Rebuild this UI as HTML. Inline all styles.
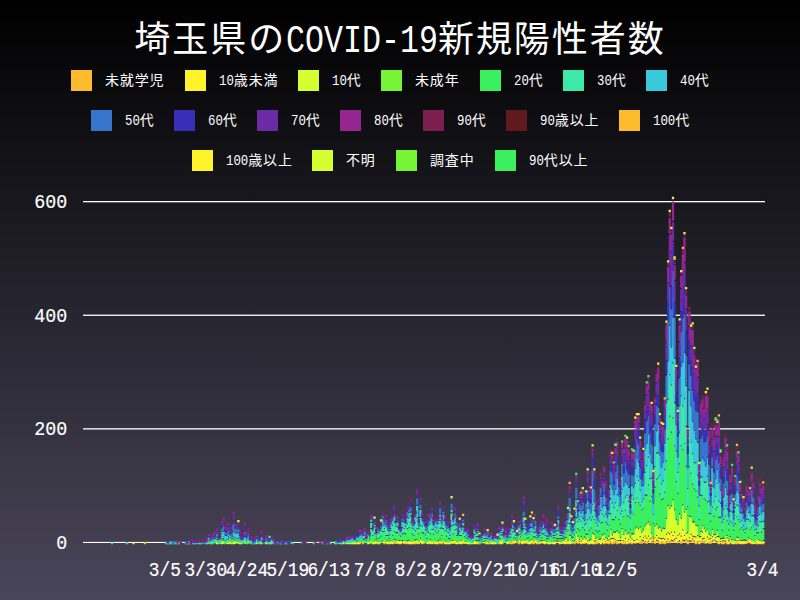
<!DOCTYPE html><html lang="ja"><head><meta charset="utf-8"><title>埼玉県のCOVID-19新規陽性者数</title><style>html,body{margin:0;padding:0;background:#4a465a;}body{width:800px;height:600px;overflow:hidden;font-family:"Liberation Mono",monospace;}#chart{width:800px;height:600px;background:linear-gradient(to bottom,#000000 0%,#4a465a 100%);}svg{display:block}</style></head><body><div id="chart"><svg width="800" height="600" viewBox="0 0 800 600" font-family="'Liberation Mono', monospace" fill="#fff"><style>.ax{stroke:#fff;stroke-width:0.18px}.cj{font-family:"Liberation Mono","Noto Sans CJK JP",monospace}</style><rect x="83" y="541.90" width="682" height="1.10" fill="#fff"/><rect x="83" y="428.20" width="682" height="1.30" fill="#fff"/><rect x="83" y="314.60" width="682" height="1.30" fill="#fff"/><rect x="83" y="201.00" width="682" height="1.30" fill="#fff"/><path fill="#FDBB2D" d="M143.78 542.05h2.28v2.23h-2.28zM191.34 542.05h2.28v2.23h-2.28zM207.74 542.05h2.28v1.66h-2.28zM227.42 542.05h2.28v2.23h-2.28zM240.54 542.05h2.28v2.23h-2.28zM247.10 542.05h2.28v1.66h-2.28zM255.30 542.05h2.28v2.23h-2.28zM258.58 542.05h2.28v2.23h-2.28zM260.22 542.05h2.28v2.23h-2.28zM265.14 542.05h2.28v2.23h-2.28zM342.22 542.05h2.28v2.23h-2.28zM355.34 542.05h2.28v2.23h-2.28zM358.62 542.05h2.28v2.23h-2.28zM361.90 542.05h2.28v2.23h-2.28zM370.10 542.05h2.28v1.10h-2.28zM373.38 542.05h2.28v2.23h-2.28zM376.66 542.05h2.28v2.23h-2.28zM383.22 542.05h2.28v2.23h-2.28zM386.50 542.05h2.28v2.23h-2.28zM393.06 542.05h2.28v1.66h-2.28zM394.70 542.05h2.28v1.66h-2.28zM397.98 542.05h2.28v2.23h-2.28zM399.62 542.05h2.28v2.23h-2.28zM404.54 542.05h2.28v2.23h-2.28zM406.18 542.05h2.28v2.23h-2.28zM407.82 542.05h2.28v2.23h-2.28zM411.10 542.05h2.28v2.23h-2.28zM412.74 542.05h2.28v2.23h-2.28zM414.38 542.05h2.28v2.23h-2.28zM416.02 542.05h2.28v1.66h-2.28zM417.66 542.05h2.28v2.23h-2.28zM419.30 541.78h2.28v1.07h-2.28zM420.94 542.05h2.28v2.23h-2.28zM422.58 542.05h2.28v1.66h-2.28zM427.50 542.05h2.28v2.23h-2.28zM430.78 542.05h2.28v2.23h-2.28zM432.42 542.05h2.28v1.66h-2.28zM434.06 542.05h2.28v2.23h-2.28zM437.34 542.05h2.28v2.23h-2.28zM438.98 542.05h2.28v1.66h-2.28zM440.62 542.05h2.28v2.23h-2.28zM442.26 541.78h2.28v1.07h-2.28zM445.54 542.05h2.28v2.23h-2.28zM450.46 542.05h2.28v1.66h-2.28zM453.74 542.05h2.28v1.66h-2.28zM457.02 542.05h2.28v2.23h-2.28zM461.94 542.05h2.28v1.66h-2.28zM471.78 542.05h2.28v2.23h-2.28zM473.42 542.05h2.28v2.23h-2.28zM475.06 542.05h2.28v2.23h-2.28zM476.70 542.05h2.28v2.23h-2.28zM484.90 542.05h2.28v2.23h-2.28zM488.18 542.05h2.28v2.23h-2.28zM489.82 542.05h2.28v2.23h-2.28zM493.10 542.05h2.28v2.23h-2.28zM498.02 542.05h2.28v2.23h-2.28zM499.66 542.05h2.28v2.23h-2.28zM501.30 542.05h2.28v2.23h-2.28zM506.22 542.05h2.28v2.23h-2.28zM507.86 542.05h2.28v1.66h-2.28zM509.50 542.05h2.28v2.23h-2.28zM511.14 542.05h2.28v2.23h-2.28zM512.78 542.05h2.28v1.66h-2.28zM517.70 542.05h2.28v2.23h-2.28zM519.34 542.05h2.28v1.10h-2.28zM520.98 542.05h2.28v2.23h-2.28zM522.62 542.05h2.28v1.66h-2.28zM524.26 542.05h2.28v1.66h-2.28zM525.90 542.05h2.28v1.66h-2.28zM529.18 542.05h2.28v2.23h-2.28zM530.82 542.05h2.28v1.10h-2.28zM532.46 542.05h2.28v2.23h-2.28zM534.10 542.05h2.28v1.10h-2.28zM535.74 542.05h2.28v2.23h-2.28zM537.38 542.05h2.28v2.23h-2.28zM543.94 542.05h2.28v2.23h-2.28zM563.62 542.05h2.28v2.23h-2.28zM565.26 542.05h2.28v2.23h-2.28zM573.46 542.05h2.28v2.23h-2.28zM575.10 541.78h2.28v1.07h-2.28zM576.74 542.05h2.28v1.66h-2.28zM580.02 542.05h2.28v2.23h-2.28zM581.66 542.05h2.28v1.66h-2.28zM583.30 542.05h2.28v1.66h-2.28zM586.58 542.05h2.28v2.23h-2.28zM589.86 542.05h2.28v1.66h-2.28zM593.14 542.05h2.28v2.23h-2.28zM594.78 542.05h2.28v2.23h-2.28zM596.42 542.05h2.28v1.66h-2.28zM601.34 542.05h2.28v1.10h-2.28zM602.98 542.05h2.28v2.23h-2.28zM606.26 542.05h2.28v1.66h-2.28zM607.90 542.05h2.28v2.23h-2.28zM609.54 542.05h2.28v1.10h-2.28zM611.18 542.05h2.28v2.23h-2.28zM612.82 542.05h2.28v1.66h-2.28zM614.46 542.05h2.28v1.10h-2.28zM616.10 542.05h2.28v2.23h-2.28zM617.74 542.05h2.28v1.66h-2.28zM621.02 542.05h2.28v1.66h-2.28zM622.66 542.05h2.28v2.23h-2.28zM624.30 542.05h2.28v1.66h-2.28zM625.94 542.05h2.28v2.23h-2.28zM627.58 542.05h2.28v1.66h-2.28zM629.22 542.05h2.28v1.10h-2.28zM630.86 542.05h2.28v2.23h-2.28zM634.14 542.05h2.28v1.66h-2.28zM637.42 542.05h2.28v1.10h-2.28zM639.06 542.05h2.28v1.66h-2.28zM640.70 542.05h2.28v1.66h-2.28zM642.34 541.21h2.28v1.64h-2.28zM643.98 542.05h2.28v1.10h-2.28zM645.62 542.05h2.28v1.66h-2.28zM647.26 541.78h2.28v1.07h-2.28zM650.54 542.05h2.28v1.10h-2.28zM652.18 541.78h2.28v1.07h-2.28zM653.82 542.05h2.28v1.66h-2.28zM655.46 540.64h2.28v2.21h-2.28zM657.10 541.78h2.28v1.07h-2.28zM658.74 542.05h2.28v2.23h-2.28zM660.38 542.05h2.28v1.66h-2.28zM662.02 542.05h2.28v1.66h-2.28zM663.66 542.05h2.28v2.23h-2.28zM665.30 542.05h2.28v1.10h-2.28zM666.94 539.51h2.28v3.34h-2.28zM668.58 542.05h2.28v1.10h-2.28zM670.22 540.64h2.28v2.21h-2.28zM671.86 541.21h2.28v1.64h-2.28zM673.50 540.07h2.28v2.78h-2.28zM676.78 542.05h2.28v1.10h-2.28zM678.42 541.21h2.28v1.64h-2.28zM680.06 542.05h2.28v1.66h-2.28zM681.70 540.64h2.28v2.21h-2.28zM683.34 541.21h2.28v1.64h-2.28zM684.98 540.07h2.28v2.78h-2.28zM686.62 542.05h2.28v2.23h-2.28zM688.26 541.78h2.28v1.07h-2.28zM689.90 541.78h2.28v1.07h-2.28zM691.54 539.51h2.28v3.34h-2.28zM693.18 541.78h2.28v1.07h-2.28zM694.82 542.05h2.28v2.23h-2.28zM696.46 542.05h2.28v1.10h-2.28zM698.10 542.05h2.28v2.23h-2.28zM699.74 542.05h2.28v1.10h-2.28zM701.38 539.51h2.28v3.34h-2.28zM703.02 542.05h2.28v1.10h-2.28zM704.66 542.05h2.28v1.66h-2.28zM707.94 542.05h2.28v1.66h-2.28zM709.58 542.05h2.28v1.66h-2.28zM711.22 541.78h2.28v1.07h-2.28zM714.50 541.78h2.28v1.07h-2.28zM716.14 542.05h2.28v1.10h-2.28zM717.78 542.05h2.28v2.23h-2.28zM721.06 542.05h2.28v2.23h-2.28zM722.70 542.05h2.28v2.23h-2.28zM724.34 541.78h2.28v1.07h-2.28zM725.98 542.05h2.28v2.23h-2.28zM729.26 541.78h2.28v1.07h-2.28zM730.90 542.05h2.28v2.23h-2.28zM732.54 542.05h2.28v2.23h-2.28zM734.18 542.05h2.28v2.23h-2.28zM735.82 542.05h2.28v2.23h-2.28zM737.46 542.05h2.28v1.66h-2.28zM739.10 542.05h2.28v2.23h-2.28zM740.74 542.05h2.28v2.23h-2.28zM742.38 542.05h2.28v2.23h-2.28zM745.66 542.05h2.28v1.66h-2.28zM747.30 541.78h2.28v1.07h-2.28zM748.94 542.05h2.28v1.10h-2.28zM750.58 542.05h2.28v2.23h-2.28zM752.22 542.05h2.28v2.23h-2.28zM755.50 542.05h2.28v2.23h-2.28zM757.14 542.05h2.28v2.23h-2.28zM758.78 542.05h2.28v2.23h-2.28zM760.42 542.05h2.28v2.23h-2.28zM762.06 542.05h2.28v2.23h-2.28z"/><path fill="#FFF42A" d="M166.74 542.05h2.28v2.23h-2.28zM188.06 542.05h2.28v2.23h-2.28zM215.94 542.05h2.28v2.23h-2.28zM219.22 542.05h2.28v1.66h-2.28zM220.86 542.05h2.28v2.23h-2.28zM222.50 542.05h2.28v1.66h-2.28zM225.78 542.05h2.28v1.66h-2.28zM227.42 541.48h2.28v2.23h-2.28zM229.06 542.05h2.28v1.66h-2.28zM230.70 542.05h2.28v2.23h-2.28zM232.34 542.05h2.28v2.23h-2.28zM233.98 542.05h2.28v1.66h-2.28zM235.62 542.05h2.28v1.10h-2.28zM238.90 542.05h2.28v2.23h-2.28zM247.10 540.91h2.28v2.23h-2.28zM255.30 541.48h2.28v2.23h-2.28zM260.22 541.48h2.28v2.23h-2.28zM265.14 541.48h2.28v2.23h-2.28zM270.06 542.05h2.28v2.23h-2.28zM334.02 542.05h2.28v2.23h-2.28zM352.06 542.05h2.28v2.23h-2.28zM356.98 542.05h2.28v2.23h-2.28zM373.38 541.48h2.28v2.23h-2.28zM376.66 541.21h2.28v1.07h-2.28zM383.22 541.48h2.28v1.10h-2.28zM386.50 541.48h2.28v2.23h-2.28zM388.14 542.05h2.28v2.23h-2.28zM389.78 542.05h2.28v1.66h-2.28zM391.42 542.05h2.28v2.23h-2.28zM396.34 542.05h2.28v1.66h-2.28zM397.98 541.48h2.28v2.23h-2.28zM399.62 541.48h2.28v2.23h-2.28zM402.90 542.05h2.28v1.66h-2.28zM407.82 541.48h2.28v2.23h-2.28zM409.46 542.05h2.28v2.23h-2.28zM411.10 541.48h2.28v2.23h-2.28zM412.74 541.48h2.28v1.66h-2.28zM416.02 540.91h2.28v2.23h-2.28zM419.30 539.78h2.28v2.23h-2.28zM420.94 541.48h2.28v1.66h-2.28zM425.86 542.05h2.28v1.66h-2.28zM427.50 541.48h2.28v2.23h-2.28zM429.14 542.05h2.28v1.66h-2.28zM434.06 541.48h2.28v1.66h-2.28zM438.98 540.91h2.28v1.66h-2.28zM443.90 542.05h2.28v2.23h-2.28zM447.18 542.05h2.28v2.23h-2.28zM448.82 542.05h2.28v2.23h-2.28zM452.10 542.05h2.28v1.66h-2.28zM453.74 540.91h2.28v1.10h-2.28zM455.38 542.05h2.28v2.23h-2.28zM458.66 542.05h2.28v1.66h-2.28zM460.30 542.05h2.28v2.23h-2.28zM461.94 540.91h2.28v1.10h-2.28zM463.58 542.05h2.28v1.66h-2.28zM468.50 542.05h2.28v2.23h-2.28zM473.42 541.48h2.28v2.23h-2.28zM475.06 541.48h2.28v2.23h-2.28zM481.62 542.05h2.28v1.10h-2.28zM486.54 542.05h2.28v2.23h-2.28zM489.82 541.48h2.28v1.66h-2.28zM491.46 542.05h2.28v2.23h-2.28zM499.66 541.48h2.28v2.23h-2.28zM501.30 541.48h2.28v1.10h-2.28zM511.14 541.48h2.28v1.10h-2.28zM514.42 542.05h2.28v1.10h-2.28zM517.70 541.48h2.28v1.10h-2.28zM519.34 540.35h2.28v1.10h-2.28zM520.98 541.48h2.28v2.23h-2.28zM522.62 540.91h2.28v1.66h-2.28zM525.90 540.91h2.28v1.66h-2.28zM527.54 542.05h2.28v2.23h-2.28zM529.18 541.48h2.28v2.23h-2.28zM530.82 540.35h2.28v2.23h-2.28zM532.46 541.48h2.28v1.66h-2.28zM534.10 540.35h2.28v1.66h-2.28zM535.74 541.48h2.28v1.66h-2.28zM539.02 542.05h2.28v1.66h-2.28zM542.30 542.05h2.28v1.66h-2.28zM543.94 541.48h2.28v2.23h-2.28zM547.22 542.05h2.28v2.23h-2.28zM552.14 542.05h2.28v2.23h-2.28zM553.78 542.05h2.28v2.23h-2.28zM555.42 541.78h2.28v1.07h-2.28zM557.06 541.78h2.28v1.07h-2.28zM558.70 542.05h2.28v2.23h-2.28zM561.98 542.05h2.28v1.66h-2.28zM563.62 541.48h2.28v2.23h-2.28zM565.26 541.48h2.28v1.66h-2.28zM566.90 542.05h2.28v1.66h-2.28zM568.54 542.05h2.28v2.23h-2.28zM570.18 542.05h2.28v1.66h-2.28zM575.10 539.78h2.28v1.66h-2.28zM578.38 542.05h2.28v1.10h-2.28zM580.02 541.21h2.28v1.07h-2.28zM581.66 540.91h2.28v2.23h-2.28zM583.30 540.91h2.28v2.23h-2.28zM586.58 541.48h2.28v1.10h-2.28zM588.22 542.05h2.28v2.23h-2.28zM589.86 540.91h2.28v2.23h-2.28zM591.50 542.05h2.28v2.23h-2.28zM593.14 541.48h2.28v1.10h-2.28zM594.78 541.48h2.28v1.10h-2.28zM596.42 540.07h2.28v1.64h-2.28zM599.70 542.05h2.28v2.23h-2.28zM601.34 540.35h2.28v1.66h-2.28zM602.98 540.07h2.28v2.21h-2.28zM604.62 542.05h2.28v1.10h-2.28zM606.26 540.91h2.28v1.66h-2.28zM607.90 540.64h2.28v1.64h-2.28zM609.54 539.51h2.28v1.64h-2.28zM611.18 538.94h2.28v3.34h-2.28zM612.82 539.51h2.28v2.21h-2.28zM614.46 540.35h2.28v1.10h-2.28zM616.10 541.48h2.28v1.10h-2.28zM617.74 540.91h2.28v1.10h-2.28zM619.38 541.21h2.28v1.64h-2.28zM621.02 540.91h2.28v1.66h-2.28zM622.66 541.48h2.28v1.10h-2.28zM624.30 538.94h2.28v2.78h-2.28zM625.94 541.48h2.28v1.66h-2.28zM627.58 540.07h2.28v1.64h-2.28zM629.22 540.35h2.28v2.23h-2.28zM630.86 539.51h2.28v2.78h-2.28zM632.50 541.21h2.28v1.64h-2.28zM634.14 540.91h2.28v1.66h-2.28zM635.78 540.07h2.28v2.78h-2.28zM637.42 540.35h2.28v1.66h-2.28zM639.06 537.23h2.28v4.48h-2.28zM640.70 540.64h2.28v1.07h-2.28zM642.34 538.37h2.28v1.64h-2.28zM643.98 536.67h2.28v4.48h-2.28zM645.62 538.94h2.28v2.78h-2.28zM647.26 536.67h2.28v3.91h-2.28zM648.90 539.51h2.28v3.34h-2.28zM650.54 538.37h2.28v2.78h-2.28zM652.18 539.51h2.28v1.07h-2.28zM653.82 538.37h2.28v3.34h-2.28zM655.46 536.10h2.28v3.34h-2.28zM657.10 538.37h2.28v2.21h-2.28zM658.74 538.94h2.28v3.34h-2.28zM660.38 539.51h2.28v2.21h-2.28zM662.02 538.94h2.28v2.78h-2.28zM663.66 540.07h2.28v2.21h-2.28zM665.30 534.96h2.28v6.18h-2.28zM666.94 533.26h2.28v5.05h-2.28zM668.58 534.39h2.28v6.75h-2.28zM670.22 532.69h2.28v6.75h-2.28zM671.86 536.10h2.28v3.91h-2.28zM673.50 532.69h2.28v6.18h-2.28zM675.14 538.94h2.28v3.91h-2.28zM676.78 536.10h2.28v5.05h-2.28zM678.42 534.39h2.28v5.62h-2.28zM680.06 536.67h2.28v5.05h-2.28zM681.70 530.42h2.28v9.02h-2.28zM683.34 536.10h2.28v3.91h-2.28zM684.98 533.83h2.28v5.05h-2.28zM686.62 541.48h2.28v1.10h-2.28zM688.26 538.37h2.28v2.21h-2.28zM689.90 534.96h2.28v5.62h-2.28zM691.54 536.67h2.28v1.64h-2.28zM693.18 537.23h2.28v3.34h-2.28zM694.82 537.80h2.28v4.48h-2.28zM696.46 536.10h2.28v5.05h-2.28zM698.10 541.48h2.28v1.66h-2.28zM699.74 537.23h2.28v3.91h-2.28zM701.38 532.69h2.28v5.62h-2.28zM703.02 538.94h2.28v2.21h-2.28zM704.66 540.91h2.28v1.66h-2.28zM706.30 537.80h2.28v5.05h-2.28zM707.94 540.07h2.28v1.64h-2.28zM709.58 538.94h2.28v2.78h-2.28zM711.22 537.23h2.28v3.34h-2.28zM712.86 540.64h2.28v2.21h-2.28zM714.50 538.37h2.28v2.21h-2.28zM716.14 537.23h2.28v3.91h-2.28zM717.78 541.48h2.28v1.66h-2.28zM719.42 542.05h2.28v1.10h-2.28zM721.06 541.48h2.28v1.10h-2.28zM722.70 541.48h2.28v1.10h-2.28zM724.34 538.37h2.28v2.21h-2.28zM725.98 538.37h2.28v3.91h-2.28zM727.62 542.05h2.28v2.23h-2.28zM729.26 539.78h2.28v1.66h-2.28zM730.90 541.48h2.28v1.66h-2.28zM732.54 541.48h2.28v2.23h-2.28zM735.82 541.48h2.28v1.10h-2.28zM737.46 540.91h2.28v1.66h-2.28zM739.10 541.48h2.28v2.23h-2.28zM740.74 541.48h2.28v2.23h-2.28zM742.38 541.48h2.28v2.23h-2.28zM744.02 542.05h2.28v1.66h-2.28zM747.30 539.78h2.28v1.66h-2.28zM748.94 540.35h2.28v1.66h-2.28zM750.58 541.48h2.28v1.66h-2.28zM752.22 541.48h2.28v2.23h-2.28zM755.50 540.64h2.28v1.64h-2.28zM757.14 541.48h2.28v2.23h-2.28zM758.78 541.48h2.28v2.23h-2.28z"/><path fill="#D6FF30" d="M132.30 542.05h2.28v2.23h-2.28zM199.54 542.05h2.28v2.23h-2.28zM211.02 542.05h2.28v2.23h-2.28zM214.30 542.05h2.28v1.10h-2.28zM215.94 541.48h2.28v1.66h-2.28zM222.50 540.91h2.28v1.66h-2.28zM225.78 540.91h2.28v2.23h-2.28zM229.06 540.91h2.28v2.23h-2.28zM233.98 540.91h2.28v2.23h-2.28zM237.26 542.05h2.28v1.66h-2.28zM238.90 541.48h2.28v2.23h-2.28zM243.82 542.05h2.28v1.66h-2.28zM279.90 542.05h2.28v2.23h-2.28zM340.58 542.05h2.28v2.23h-2.28zM342.22 541.48h2.28v1.66h-2.28zM345.50 542.05h2.28v2.23h-2.28zM347.14 542.05h2.28v2.23h-2.28zM348.78 542.05h2.28v2.23h-2.28zM350.42 542.05h2.28v2.23h-2.28zM353.70 542.05h2.28v2.23h-2.28zM358.62 541.48h2.28v1.10h-2.28zM366.82 542.05h2.28v2.23h-2.28zM368.46 542.05h2.28v1.66h-2.28zM370.10 540.35h2.28v1.66h-2.28zM371.74 542.05h2.28v2.23h-2.28zM373.38 540.91h2.28v1.66h-2.28zM375.02 542.05h2.28v1.66h-2.28zM376.66 539.21h2.28v1.10h-2.28zM378.30 542.05h2.28v2.23h-2.28zM381.58 541.78h2.28v1.07h-2.28zM383.22 539.78h2.28v1.66h-2.28zM384.86 542.05h2.28v1.10h-2.28zM386.50 540.91h2.28v1.10h-2.28zM389.78 540.91h2.28v1.66h-2.28zM391.42 541.48h2.28v1.66h-2.28zM393.06 540.07h2.28v1.64h-2.28zM394.70 540.64h2.28v1.07h-2.28zM396.34 540.91h2.28v2.23h-2.28zM397.98 540.91h2.28v1.10h-2.28zM399.62 540.91h2.28v1.66h-2.28zM401.26 541.78h2.28v1.07h-2.28zM402.90 540.91h2.28v1.66h-2.28zM404.54 541.48h2.28v1.66h-2.28zM406.18 541.21h2.28v1.07h-2.28zM407.82 540.64h2.28v1.07h-2.28zM409.46 541.48h2.28v2.23h-2.28zM412.74 540.35h2.28v1.10h-2.28zM414.38 540.64h2.28v1.64h-2.28zM416.02 540.35h2.28v1.10h-2.28zM417.66 541.48h2.28v2.23h-2.28zM419.30 539.21h2.28v1.10h-2.28zM420.94 540.35h2.28v2.23h-2.28zM422.58 540.91h2.28v2.23h-2.28zM427.50 540.91h2.28v2.23h-2.28zM429.14 540.07h2.28v1.64h-2.28zM430.78 541.48h2.28v2.23h-2.28zM432.42 540.91h2.28v2.23h-2.28zM434.06 540.35h2.28v1.10h-2.28zM435.70 542.05h2.28v2.23h-2.28zM437.34 541.21h2.28v1.07h-2.28zM438.98 539.51h2.28v1.07h-2.28zM440.62 541.48h2.28v1.66h-2.28zM442.26 539.78h2.28v1.66h-2.28zM443.90 541.48h2.28v1.10h-2.28zM445.54 541.48h2.28v2.23h-2.28zM448.82 541.48h2.28v2.23h-2.28zM450.46 540.91h2.28v1.66h-2.28zM452.10 540.91h2.28v1.66h-2.28zM453.74 539.21h2.28v1.66h-2.28zM455.38 541.48h2.28v1.66h-2.28zM457.02 541.48h2.28v2.23h-2.28zM458.66 540.91h2.28v2.23h-2.28zM460.30 541.21h2.28v1.07h-2.28zM461.94 539.21h2.28v2.23h-2.28zM465.22 542.05h2.28v1.66h-2.28zM466.86 542.05h2.28v2.23h-2.28zM468.50 541.48h2.28v2.23h-2.28zM470.14 542.05h2.28v2.23h-2.28zM473.42 540.91h2.28v2.23h-2.28zM476.70 541.21h2.28v1.07h-2.28zM478.34 542.05h2.28v2.23h-2.28zM483.26 542.05h2.28v1.10h-2.28zM486.54 541.48h2.28v1.66h-2.28zM489.82 540.35h2.28v1.10h-2.28zM493.10 541.48h2.28v2.23h-2.28zM494.74 542.05h2.28v2.23h-2.28zM498.02 541.48h2.28v1.10h-2.28zM499.66 540.07h2.28v1.64h-2.28zM501.30 539.78h2.28v2.23h-2.28zM506.22 541.48h2.28v2.23h-2.28zM507.86 540.91h2.28v2.23h-2.28zM511.14 539.78h2.28v1.66h-2.28zM512.78 540.91h2.28v1.66h-2.28zM514.42 540.35h2.28v1.66h-2.28zM517.70 539.78h2.28v1.66h-2.28zM519.34 537.80h2.28v1.64h-2.28zM520.98 540.91h2.28v1.66h-2.28zM522.62 539.78h2.28v1.66h-2.28zM524.26 540.91h2.28v1.66h-2.28zM525.90 539.78h2.28v2.23h-2.28zM527.54 541.48h2.28v1.66h-2.28zM529.18 540.91h2.28v1.10h-2.28zM530.82 539.78h2.28v1.10h-2.28zM534.10 539.21h2.28v2.23h-2.28zM535.74 540.07h2.28v1.07h-2.28zM539.02 540.64h2.28v1.07h-2.28zM540.66 541.78h2.28v1.07h-2.28zM542.30 540.91h2.28v1.66h-2.28zM543.94 540.91h2.28v1.66h-2.28zM545.58 542.05h2.28v1.10h-2.28zM548.86 542.05h2.28v2.23h-2.28zM550.50 542.05h2.28v1.66h-2.28zM553.78 541.48h2.28v1.10h-2.28zM555.42 539.51h2.28v1.07h-2.28zM557.06 539.51h2.28v1.07h-2.28zM558.70 541.48h2.28v1.66h-2.28zM560.34 542.05h2.28v1.66h-2.28zM561.98 540.91h2.28v1.10h-2.28zM563.62 540.07h2.28v1.64h-2.28zM565.26 538.37h2.28v2.78h-2.28zM566.90 540.64h2.28v1.07h-2.28zM568.54 536.10h2.28v6.18h-2.28zM570.18 540.91h2.28v2.23h-2.28zM571.82 542.05h2.28v1.10h-2.28zM573.46 541.21h2.28v1.07h-2.28zM575.10 533.26h2.28v6.18h-2.28zM576.74 536.67h2.28v5.05h-2.28zM578.38 540.07h2.28v1.07h-2.28zM580.02 537.23h2.28v2.78h-2.28zM581.66 539.51h2.28v1.64h-2.28zM583.30 537.80h2.28v3.34h-2.28zM584.94 539.51h2.28v3.34h-2.28zM586.58 534.96h2.28v5.62h-2.28zM588.22 540.64h2.28v1.64h-2.28zM589.86 540.35h2.28v1.10h-2.28zM591.50 533.83h2.28v8.46h-2.28zM593.14 534.96h2.28v5.62h-2.28zM594.78 538.94h2.28v1.64h-2.28zM596.42 538.07h2.28v1.66h-2.28zM598.06 540.07h2.28v2.78h-2.28zM599.70 539.51h2.28v2.78h-2.28zM601.34 535.53h2.28v4.48h-2.28zM602.98 534.39h2.28v4.48h-2.28zM604.62 538.37h2.28v2.78h-2.28zM606.26 539.51h2.28v1.07h-2.28zM607.90 536.67h2.28v2.78h-2.28zM609.54 529.85h2.28v8.46h-2.28zM611.18 535.53h2.28v2.21h-2.28zM612.82 532.69h2.28v5.62h-2.28zM614.46 532.69h2.28v6.75h-2.28zM616.10 531.55h2.28v9.02h-2.28zM617.74 533.26h2.28v6.75h-2.28zM619.38 538.37h2.28v1.64h-2.28zM621.02 529.28h2.28v11.30h-2.28zM622.66 534.96h2.28v5.62h-2.28zM624.30 530.99h2.28v6.75h-2.28zM625.94 534.39h2.28v6.75h-2.28zM627.58 533.26h2.28v5.62h-2.28zM629.22 537.80h2.28v2.78h-2.28zM630.86 534.39h2.28v3.91h-2.28zM632.50 534.39h2.28v5.62h-2.28zM634.14 528.71h2.28v11.86h-2.28zM635.78 527.58h2.28v11.30h-2.28zM637.42 529.28h2.28v10.73h-2.28zM639.06 527.58h2.28v8.46h-2.28zM640.70 532.69h2.28v6.75h-2.28zM642.34 530.42h2.28v6.75h-2.28zM643.98 526.44h2.28v9.02h-2.28zM645.62 524.17h2.28v13.57h-2.28zM647.26 522.47h2.28v13.00h-2.28zM648.90 525.31h2.28v13.00h-2.28zM650.54 533.83h2.28v3.34h-2.28zM652.18 537.23h2.28v1.07h-2.28zM653.82 526.44h2.28v10.73h-2.28zM655.46 524.74h2.28v10.16h-2.28zM657.10 528.71h2.28v8.46h-2.28zM658.74 527.58h2.28v10.16h-2.28zM660.38 531.55h2.28v6.75h-2.28zM662.02 528.71h2.28v9.02h-2.28zM663.66 529.28h2.28v9.59h-2.28zM665.30 519.06h2.28v14.70h-2.28zM666.94 505.99h2.28v26.06h-2.28zM668.58 508.83h2.28v24.36h-2.28zM670.22 506.56h2.28v24.93h-2.28zM671.86 500.31h2.28v34.58h-2.28zM673.50 510.54h2.28v20.95h-2.28zM675.14 520.19h2.28v17.54h-2.28zM676.78 524.74h2.28v10.16h-2.28zM678.42 514.51h2.28v18.68h-2.28zM680.06 519.06h2.28v16.41h-2.28zM681.70 505.43h2.28v23.79h-2.28zM683.34 512.81h2.28v22.09h-2.28zM684.98 509.97h2.28v22.66h-2.28zM686.62 533.26h2.28v7.32h-2.28zM688.26 516.79h2.28v20.38h-2.28zM689.90 517.35h2.28v16.41h-2.28zM691.54 522.47h2.28v13.00h-2.28zM693.18 522.47h2.28v13.57h-2.28zM694.82 525.87h2.28v10.73h-2.28zM696.46 526.44h2.28v8.46h-2.28zM698.10 537.23h2.28v3.91h-2.28zM699.74 532.12h2.28v3.91h-2.28zM701.38 525.87h2.28v5.62h-2.28zM703.02 528.71h2.28v9.02h-2.28zM704.66 532.12h2.28v8.46h-2.28zM706.30 529.85h2.28v6.75h-2.28zM707.94 534.96h2.28v3.91h-2.28zM709.58 536.10h2.28v1.64h-2.28zM711.22 529.85h2.28v6.18h-2.28zM712.86 535.53h2.28v3.91h-2.28zM714.50 534.96h2.28v2.21h-2.28zM716.14 530.99h2.28v5.05h-2.28zM717.78 537.23h2.28v3.91h-2.28zM719.42 539.51h2.28v1.64h-2.28zM721.06 538.94h2.28v1.64h-2.28zM722.70 538.94h2.28v1.64h-2.28zM724.34 536.37h2.28v1.66h-2.28zM725.98 536.10h2.28v1.07h-2.28zM727.62 541.48h2.28v1.10h-2.28zM729.26 537.23h2.28v2.21h-2.28zM730.90 540.07h2.28v1.07h-2.28zM732.54 540.91h2.28v2.23h-2.28zM734.18 540.64h2.28v1.64h-2.28zM735.82 537.80h2.28v2.78h-2.28zM737.46 538.37h2.28v2.21h-2.28zM739.10 540.91h2.28v1.66h-2.28zM740.74 540.91h2.28v1.10h-2.28zM742.38 540.64h2.28v1.07h-2.28zM744.02 540.64h2.28v1.07h-2.28zM745.66 540.91h2.28v1.10h-2.28zM747.30 538.37h2.28v1.07h-2.28zM748.94 539.21h2.28v1.66h-2.28zM750.58 540.35h2.28v1.10h-2.28zM752.22 540.91h2.28v2.23h-2.28zM753.86 542.05h2.28v1.66h-2.28zM755.50 538.64h2.28v2.23h-2.28zM757.14 540.07h2.28v1.64h-2.28zM758.78 540.91h2.28v1.10h-2.28zM760.42 541.48h2.28v1.66h-2.28zM762.06 541.21h2.28v1.07h-2.28z"/><path fill="#3AF05F" d="M173.30 542.05h2.28v2.23h-2.28zM178.22 542.05h2.28v2.23h-2.28zM192.98 542.05h2.28v2.23h-2.28zM202.82 542.05h2.28v1.66h-2.28zM204.46 542.05h2.28v2.23h-2.28zM207.74 540.91h2.28v2.23h-2.28zM209.38 542.05h2.28v2.23h-2.28zM211.02 541.48h2.28v2.23h-2.28zM214.30 540.35h2.28v2.23h-2.28zM215.94 540.07h2.28v1.07h-2.28zM217.58 542.05h2.28v2.23h-2.28zM219.22 540.91h2.28v2.23h-2.28zM220.86 539.51h2.28v2.78h-2.28zM222.50 539.51h2.28v1.07h-2.28zM224.14 542.05h2.28v2.23h-2.28zM225.78 540.35h2.28v2.23h-2.28zM227.42 539.51h2.28v2.21h-2.28zM229.06 540.35h2.28v1.66h-2.28zM230.70 541.48h2.28v1.66h-2.28zM232.34 539.51h2.28v2.78h-2.28zM233.98 540.35h2.28v1.10h-2.28zM235.62 540.35h2.28v1.66h-2.28zM237.26 540.64h2.28v1.07h-2.28zM238.90 540.91h2.28v2.23h-2.28zM242.18 542.05h2.28v1.10h-2.28zM243.82 540.91h2.28v1.10h-2.28zM245.46 542.05h2.28v2.23h-2.28zM247.10 540.35h2.28v2.23h-2.28zM248.74 542.05h2.28v1.10h-2.28zM250.38 542.05h2.28v2.23h-2.28zM253.66 542.05h2.28v2.23h-2.28zM255.30 540.91h2.28v1.66h-2.28zM256.94 542.05h2.28v1.66h-2.28zM258.58 541.48h2.28v2.23h-2.28zM260.22 540.64h2.28v1.07h-2.28zM263.50 542.05h2.28v1.10h-2.28zM265.14 540.91h2.28v1.66h-2.28zM266.78 542.05h2.28v2.23h-2.28zM268.42 542.05h2.28v2.23h-2.28zM270.06 541.48h2.28v2.23h-2.28zM291.38 542.05h2.28v2.23h-2.28zM312.70 542.05h2.28v2.23h-2.28zM322.54 542.05h2.28v2.23h-2.28zM334.02 541.48h2.28v2.23h-2.28zM335.66 542.05h2.28v2.23h-2.28zM338.94 542.05h2.28v2.23h-2.28zM343.86 542.05h2.28v1.66h-2.28zM345.50 541.48h2.28v1.66h-2.28zM347.14 541.48h2.28v1.66h-2.28zM348.78 541.48h2.28v1.10h-2.28zM350.42 541.48h2.28v1.66h-2.28zM352.06 540.64h2.28v1.64h-2.28zM353.70 541.48h2.28v1.10h-2.28zM355.34 541.48h2.28v1.10h-2.28zM356.98 541.21h2.28v1.07h-2.28zM358.62 539.78h2.28v1.10h-2.28zM360.26 537.80h2.28v5.05h-2.28zM361.90 540.07h2.28v2.21h-2.28zM363.54 539.51h2.28v3.34h-2.28zM365.18 541.21h2.28v1.64h-2.28zM366.82 536.67h2.28v5.62h-2.28zM368.46 539.51h2.28v2.21h-2.28zM370.10 529.28h2.28v10.73h-2.28zM371.74 536.10h2.28v6.18h-2.28zM373.38 533.83h2.28v6.75h-2.28zM375.02 539.51h2.28v2.21h-2.28zM376.66 533.26h2.28v5.05h-2.28zM378.30 538.37h2.28v3.91h-2.28zM379.94 536.67h2.28v6.18h-2.28zM381.58 532.12h2.28v8.46h-2.28zM383.22 532.12h2.28v7.32h-2.28zM384.86 536.10h2.28v5.05h-2.28zM386.50 536.10h2.28v3.91h-2.28zM388.14 538.94h2.28v3.34h-2.28zM389.78 530.99h2.28v9.59h-2.28zM391.42 536.10h2.28v5.05h-2.28zM393.06 532.12h2.28v6.75h-2.28zM394.70 533.26h2.28v6.18h-2.28zM396.34 533.26h2.28v7.89h-2.28zM397.98 535.53h2.28v4.48h-2.28zM399.62 536.67h2.28v3.91h-2.28zM401.26 534.39h2.28v6.18h-2.28zM402.90 533.83h2.28v6.75h-2.28zM404.54 534.39h2.28v6.75h-2.28zM406.18 529.28h2.28v10.73h-2.28zM407.82 528.15h2.28v11.30h-2.28zM409.46 523.03h2.28v18.68h-2.28zM411.10 534.39h2.28v7.32h-2.28zM412.74 536.10h2.28v3.34h-2.28zM414.38 531.55h2.28v7.89h-2.28zM416.02 529.28h2.28v10.16h-2.28zM417.66 534.39h2.28v7.32h-2.28zM419.30 525.87h2.28v12.43h-2.28zM420.94 533.26h2.28v7.32h-2.28zM422.58 533.83h2.28v7.32h-2.28zM424.22 535.53h2.28v7.32h-2.28zM425.86 538.94h2.28v2.78h-2.28zM427.50 532.69h2.28v8.46h-2.28zM429.14 534.39h2.28v4.48h-2.28zM430.78 529.85h2.28v11.86h-2.28zM432.42 534.96h2.28v6.18h-2.28zM434.06 531.55h2.28v7.89h-2.28zM435.70 533.26h2.28v9.02h-2.28zM437.34 531.55h2.28v8.46h-2.28zM438.98 528.71h2.28v9.59h-2.28zM440.62 536.10h2.28v5.05h-2.28zM442.26 529.28h2.28v10.16h-2.28zM443.90 530.99h2.28v9.59h-2.28zM445.54 536.67h2.28v5.05h-2.28zM447.18 538.94h2.28v3.34h-2.28zM448.82 539.51h2.28v2.21h-2.28zM450.46 526.44h2.28v14.14h-2.28zM452.10 534.96h2.28v5.62h-2.28zM453.74 530.42h2.28v8.46h-2.28zM455.38 536.10h2.28v5.05h-2.28zM457.02 537.80h2.28v3.91h-2.28zM458.66 536.10h2.28v5.05h-2.28zM460.30 536.10h2.28v3.91h-2.28zM461.94 533.83h2.28v5.62h-2.28zM463.58 537.23h2.28v4.48h-2.28zM465.22 538.37h2.28v3.34h-2.28zM466.86 539.51h2.28v2.78h-2.28zM468.50 540.91h2.28v1.10h-2.28zM470.14 541.48h2.28v1.66h-2.28zM471.78 541.48h2.28v1.10h-2.28zM473.42 534.96h2.28v6.18h-2.28zM475.06 540.64h2.28v1.07h-2.28zM476.70 537.23h2.28v2.78h-2.28zM478.34 541.48h2.28v2.23h-2.28zM479.98 542.05h2.28v1.10h-2.28zM481.62 540.07h2.28v1.07h-2.28zM483.26 538.94h2.28v2.21h-2.28zM484.90 540.64h2.28v1.64h-2.28zM486.54 538.94h2.28v2.21h-2.28zM488.18 541.48h2.28v1.66h-2.28zM489.82 538.37h2.28v1.07h-2.28zM491.46 541.21h2.28v1.07h-2.28zM493.10 540.64h2.28v1.07h-2.28zM494.74 540.64h2.28v1.64h-2.28zM496.38 542.05h2.28v1.66h-2.28zM498.02 539.78h2.28v2.23h-2.28zM499.66 535.53h2.28v3.34h-2.28zM501.30 535.53h2.28v4.48h-2.28zM502.94 540.07h2.28v2.78h-2.28zM504.58 540.64h2.28v2.21h-2.28zM506.22 540.91h2.28v1.10h-2.28zM507.86 540.07h2.28v1.07h-2.28zM509.50 537.80h2.28v4.48h-2.28zM511.14 532.69h2.28v6.75h-2.28zM512.78 538.37h2.28v2.21h-2.28zM514.42 538.94h2.28v1.07h-2.28zM516.06 540.64h2.28v2.21h-2.28zM517.70 535.53h2.28v3.91h-2.28zM519.34 534.39h2.28v2.21h-2.28zM520.98 535.53h2.28v5.05h-2.28zM522.62 529.28h2.28v10.16h-2.28zM524.26 534.39h2.28v6.18h-2.28zM525.90 538.94h2.28v1.07h-2.28zM527.54 538.37h2.28v2.78h-2.28zM529.18 534.96h2.28v5.05h-2.28zM530.82 532.12h2.28v6.75h-2.28zM532.46 537.23h2.28v3.91h-2.28zM534.10 537.80h2.28v1.64h-2.28zM535.74 538.07h2.28v1.10h-2.28zM537.38 540.07h2.28v2.21h-2.28zM539.02 536.10h2.28v3.34h-2.28zM540.66 538.37h2.28v2.21h-2.28zM542.30 534.39h2.28v6.18h-2.28zM543.94 536.10h2.28v4.48h-2.28zM545.58 539.51h2.28v1.64h-2.28zM547.22 538.94h2.28v3.34h-2.28zM548.86 539.51h2.28v2.78h-2.28zM550.50 536.67h2.28v5.05h-2.28zM552.14 538.37h2.28v3.91h-2.28zM553.78 538.37h2.28v2.21h-2.28zM555.42 534.96h2.28v3.34h-2.28zM557.06 530.99h2.28v7.32h-2.28zM558.70 539.51h2.28v1.64h-2.28zM560.34 538.94h2.28v2.78h-2.28zM561.98 538.94h2.28v1.07h-2.28zM563.62 537.80h2.28v1.07h-2.28zM565.26 532.12h2.28v5.05h-2.28zM566.90 530.99h2.28v8.46h-2.28zM568.54 524.17h2.28v10.73h-2.28zM570.18 537.80h2.28v3.34h-2.28zM571.82 537.80h2.28v3.34h-2.28zM573.46 535.53h2.28v4.48h-2.28zM575.10 518.49h2.28v13.57h-2.28zM576.74 529.28h2.28v6.18h-2.28zM578.38 530.99h2.28v7.89h-2.28zM580.02 521.90h2.28v14.14h-2.28zM581.66 528.15h2.28v10.16h-2.28zM583.30 530.42h2.28v6.18h-2.28zM584.94 534.39h2.28v3.91h-2.28zM586.58 520.19h2.28v13.57h-2.28zM588.22 530.99h2.28v8.46h-2.28zM589.86 528.71h2.28v10.73h-2.28zM591.50 517.35h2.28v15.27h-2.28zM593.14 520.19h2.28v13.57h-2.28zM594.78 530.99h2.28v6.75h-2.28zM596.42 532.69h2.28v5.05h-2.28zM598.06 531.55h2.28v7.32h-2.28zM599.70 523.60h2.28v14.70h-2.28zM601.34 523.03h2.28v11.30h-2.28zM602.98 516.79h2.28v16.41h-2.28zM604.62 523.03h2.28v14.14h-2.28zM606.26 530.99h2.28v7.32h-2.28zM607.90 525.87h2.28v9.59h-2.28zM609.54 514.51h2.28v14.14h-2.28zM611.18 520.19h2.28v14.14h-2.28zM612.82 520.19h2.28v11.30h-2.28zM614.46 517.92h2.28v13.57h-2.28zM616.10 511.11h2.28v19.25h-2.28zM617.74 520.19h2.28v11.86h-2.28zM619.38 524.74h2.28v12.43h-2.28zM621.02 511.67h2.28v16.41h-2.28zM622.66 517.35h2.28v16.41h-2.28zM624.30 511.11h2.28v18.68h-2.28zM625.94 516.22h2.28v16.98h-2.28zM627.58 517.35h2.28v14.70h-2.28zM629.22 529.85h2.28v6.75h-2.28zM630.86 512.81h2.28v20.38h-2.28zM632.50 515.08h2.28v18.11h-2.28zM634.14 503.15h2.28v24.36h-2.28zM635.78 498.61h2.28v27.77h-2.28zM637.42 503.15h2.28v24.93h-2.28zM639.06 505.99h2.28v20.38h-2.28zM640.70 510.54h2.28v20.95h-2.28zM642.34 508.83h2.28v20.38h-2.28zM643.98 495.77h2.28v29.47h-2.28zM645.62 495.77h2.28v27.20h-2.28zM647.26 485.55h2.28v35.72h-2.28zM648.90 502.02h2.28v22.09h-2.28zM650.54 496.91h2.28v35.72h-2.28zM652.18 523.60h2.28v12.43h-2.28zM653.82 487.82h2.28v37.42h-2.28zM655.46 479.87h2.28v43.67h-2.28zM657.10 478.16h2.28v49.35h-2.28zM658.74 494.63h2.28v31.74h-2.28zM660.38 500.31h2.28v30.04h-2.28zM662.02 499.18h2.28v28.34h-2.28zM663.66 492.93h2.28v35.15h-2.28zM665.30 461.69h2.28v56.17h-2.28zM666.94 439.54h2.28v65.26h-2.28zM668.58 416.82h2.28v90.82h-2.28zM670.22 432.72h2.28v72.64h-2.28zM671.86 418.52h2.28v80.59h-2.28zM673.50 446.35h2.28v62.98h-2.28zM675.14 482.14h2.28v36.86h-2.28zM676.78 494.07h2.28v29.47h-2.28zM678.42 464.53h2.28v48.78h-2.28zM680.06 446.35h2.28v71.50h-2.28zM681.70 450.33h2.28v53.90h-2.28zM683.34 444.08h2.28v67.53h-2.28zM684.98 466.80h2.28v41.97h-2.28zM686.62 507.13h2.28v24.93h-2.28zM688.26 467.37h2.28v48.22h-2.28zM689.90 473.62h2.28v42.54h-2.28zM691.54 484.98h2.28v36.29h-2.28zM693.18 489.52h2.28v31.74h-2.28zM694.82 491.79h2.28v32.88h-2.28zM696.46 497.47h2.28v27.77h-2.28zM698.10 520.19h2.28v15.84h-2.28zM699.74 495.77h2.28v35.15h-2.28zM701.38 496.34h2.28v28.34h-2.28zM703.02 499.18h2.28v28.34h-2.28zM704.66 500.88h2.28v30.04h-2.28zM706.30 502.59h2.28v26.06h-2.28zM707.94 513.95h2.28v19.82h-2.28zM709.58 521.90h2.28v13.00h-2.28zM711.22 507.70h2.28v20.95h-2.28zM712.86 516.79h2.28v17.54h-2.28zM714.50 509.97h2.28v23.79h-2.28zM716.14 507.70h2.28v22.09h-2.28zM717.78 517.92h2.28v18.11h-2.28zM719.42 517.92h2.28v20.38h-2.28zM721.06 530.99h2.28v6.75h-2.28zM722.70 519.63h2.28v18.11h-2.28zM724.34 516.79h2.28v19.25h-2.28zM725.98 521.33h2.28v13.57h-2.28zM727.62 530.42h2.28v10.16h-2.28zM729.26 521.90h2.28v14.14h-2.28zM730.90 523.60h2.28v15.27h-2.28zM732.54 530.99h2.28v10.16h-2.28zM734.18 524.17h2.28v15.27h-2.28zM735.82 517.35h2.28v19.25h-2.28zM737.46 520.19h2.28v16.98h-2.28zM739.10 529.85h2.28v10.73h-2.28zM740.74 528.15h2.28v11.86h-2.28zM742.38 530.42h2.28v9.02h-2.28zM744.02 533.26h2.28v6.18h-2.28zM745.66 528.71h2.28v11.30h-2.28zM747.30 520.19h2.28v16.98h-2.28zM748.94 529.85h2.28v9.02h-2.28zM750.58 528.15h2.28v11.30h-2.28zM752.22 525.87h2.28v15.27h-2.28zM753.86 536.10h2.28v5.62h-2.28zM755.50 533.26h2.28v5.62h-2.28zM757.14 533.26h2.28v5.62h-2.28zM758.78 521.90h2.28v18.11h-2.28zM760.42 532.69h2.28v8.46h-2.28zM762.06 529.28h2.28v10.73h-2.28z"/><path fill="#3DE9A8" d="M110.98 542.05h2.28v2.23h-2.28zM170.02 542.05h2.28v2.23h-2.28zM173.30 541.48h2.28v2.23h-2.28zM174.94 542.05h2.28v2.23h-2.28zM186.42 542.05h2.28v2.23h-2.28zM188.06 541.48h2.28v2.23h-2.28zM191.34 541.48h2.28v2.23h-2.28zM194.62 542.05h2.28v2.23h-2.28zM196.26 542.05h2.28v1.66h-2.28zM197.90 542.05h2.28v2.23h-2.28zM199.54 541.48h2.28v2.23h-2.28zM201.18 542.05h2.28v1.10h-2.28zM206.10 542.05h2.28v2.23h-2.28zM207.74 540.07h2.28v1.07h-2.28zM209.38 541.48h2.28v2.23h-2.28zM211.02 540.91h2.28v2.23h-2.28zM212.66 542.05h2.28v1.10h-2.28zM215.94 537.80h2.28v1.07h-2.28zM217.58 541.48h2.28v1.66h-2.28zM219.22 540.35h2.28v1.66h-2.28zM220.86 533.83h2.28v4.48h-2.28zM222.50 537.51h2.28v1.10h-2.28zM224.14 541.48h2.28v1.10h-2.28zM225.78 539.78h2.28v1.10h-2.28zM227.42 537.23h2.28v1.07h-2.28zM229.06 538.37h2.28v1.64h-2.28zM230.70 539.51h2.28v1.64h-2.28zM232.34 537.51h2.28v1.10h-2.28zM233.98 538.37h2.28v1.07h-2.28zM235.62 539.21h2.28v1.10h-2.28zM237.26 538.64h2.28v1.66h-2.28zM238.90 540.35h2.28v1.10h-2.28zM240.54 541.48h2.28v1.10h-2.28zM242.18 540.35h2.28v2.23h-2.28zM243.82 539.21h2.28v2.23h-2.28zM245.46 541.21h2.28v1.07h-2.28zM247.10 539.78h2.28v1.66h-2.28zM248.74 540.35h2.28v1.66h-2.28zM250.38 541.48h2.28v1.66h-2.28zM255.30 539.78h2.28v2.23h-2.28zM260.22 538.64h2.28v1.66h-2.28zM266.78 541.48h2.28v2.23h-2.28zM270.06 540.91h2.28v2.23h-2.28zM271.70 542.05h2.28v1.66h-2.28zM283.18 542.05h2.28v2.23h-2.28zM286.46 542.05h2.28v2.23h-2.28zM325.82 542.05h2.28v2.23h-2.28zM329.10 542.05h2.28v2.23h-2.28zM335.66 541.48h2.28v2.23h-2.28zM337.30 542.05h2.28v1.66h-2.28zM338.94 541.48h2.28v2.23h-2.28zM340.58 541.48h2.28v2.23h-2.28zM342.22 540.35h2.28v1.10h-2.28zM343.86 540.91h2.28v1.66h-2.28zM347.14 540.35h2.28v2.23h-2.28zM348.78 539.78h2.28v2.23h-2.28zM350.42 539.51h2.28v1.64h-2.28zM352.06 538.64h2.28v1.10h-2.28zM353.70 539.78h2.28v2.23h-2.28zM355.34 538.37h2.28v2.21h-2.28zM356.98 539.21h2.28v1.66h-2.28zM358.62 538.07h2.28v1.10h-2.28zM360.26 535.80h2.28v1.10h-2.28zM361.90 537.23h2.28v1.64h-2.28zM363.54 535.53h2.28v2.78h-2.28zM365.18 539.21h2.28v1.10h-2.28zM366.82 534.67h2.28v2.23h-2.28zM368.46 537.23h2.28v1.07h-2.28zM370.10 523.03h2.28v5.05h-2.28zM371.74 532.12h2.28v2.78h-2.28zM373.38 527.58h2.28v5.05h-2.28zM375.02 536.67h2.28v1.64h-2.28zM376.66 530.99h2.28v1.07h-2.28zM378.30 533.83h2.28v3.34h-2.28zM379.94 530.99h2.28v4.48h-2.28zM381.58 525.87h2.28v5.05h-2.28zM383.22 529.28h2.28v1.64h-2.28zM384.86 527.01h2.28v7.89h-2.28zM386.50 530.99h2.28v3.91h-2.28zM388.14 535.53h2.28v2.21h-2.28zM389.78 528.99h2.28v1.10h-2.28zM391.42 525.87h2.28v9.02h-2.28zM393.06 522.47h2.28v8.46h-2.28zM394.70 527.01h2.28v5.05h-2.28zM396.34 527.58h2.28v4.48h-2.28zM397.98 533.53h2.28v1.66h-2.28zM399.62 532.69h2.28v2.78h-2.28zM401.26 528.15h2.28v5.05h-2.28zM402.90 529.28h2.28v3.34h-2.28zM404.54 527.01h2.28v6.18h-2.28zM406.18 524.17h2.28v3.91h-2.28zM407.82 518.49h2.28v8.46h-2.28zM409.46 516.22h2.28v5.62h-2.28zM411.10 528.71h2.28v4.48h-2.28zM412.74 529.85h2.28v5.05h-2.28zM414.38 523.60h2.28v6.75h-2.28zM416.02 518.49h2.28v9.59h-2.28zM417.66 528.71h2.28v4.48h-2.28zM419.30 517.92h2.28v6.75h-2.28zM420.94 527.01h2.28v5.05h-2.28zM422.58 525.87h2.28v6.75h-2.28zM424.22 530.42h2.28v3.91h-2.28zM425.86 532.69h2.28v5.05h-2.28zM427.50 525.87h2.28v5.62h-2.28zM429.14 524.74h2.28v8.46h-2.28zM430.78 522.47h2.28v6.18h-2.28zM432.42 529.85h2.28v3.91h-2.28zM434.06 527.58h2.28v2.78h-2.28zM435.70 528.71h2.28v3.34h-2.28zM437.34 524.17h2.28v6.18h-2.28zM438.98 521.33h2.28v6.18h-2.28zM440.62 528.71h2.28v6.18h-2.28zM442.26 520.76h2.28v7.32h-2.28zM443.90 525.87h2.28v3.91h-2.28zM445.54 532.12h2.28v3.34h-2.28zM447.18 533.26h2.28v4.48h-2.28zM448.82 536.10h2.28v2.21h-2.28zM450.46 513.38h2.28v11.86h-2.28zM452.10 525.87h2.28v7.89h-2.28zM453.74 525.31h2.28v3.91h-2.28zM455.38 529.85h2.28v5.05h-2.28zM457.02 535.80h2.28v1.66h-2.28zM458.66 532.12h2.28v2.78h-2.28zM460.30 530.42h2.28v4.48h-2.28zM461.94 527.58h2.28v5.05h-2.28zM463.58 533.26h2.28v2.78h-2.28zM465.22 536.10h2.28v1.07h-2.28zM466.86 537.23h2.28v1.07h-2.28zM468.50 539.21h2.28v1.66h-2.28zM470.14 540.35h2.28v1.66h-2.28zM471.78 538.37h2.28v2.21h-2.28zM473.42 532.12h2.28v1.64h-2.28zM475.06 537.23h2.28v2.21h-2.28zM476.70 533.26h2.28v2.78h-2.28zM478.34 540.64h2.28v1.07h-2.28zM479.98 540.35h2.28v1.10h-2.28zM481.62 538.07h2.28v1.10h-2.28zM483.26 536.94h2.28v1.10h-2.28zM484.90 538.64h2.28v1.10h-2.28zM486.54 536.94h2.28v1.10h-2.28zM488.18 540.35h2.28v1.10h-2.28zM489.82 536.37h2.28v2.23h-2.28zM491.46 539.21h2.28v2.23h-2.28zM493.10 538.64h2.28v1.66h-2.28zM494.74 538.64h2.28v2.23h-2.28zM496.38 540.91h2.28v2.23h-2.28zM498.02 538.94h2.28v1.07h-2.28zM499.66 532.69h2.28v1.64h-2.28zM501.30 533.26h2.28v1.07h-2.28zM502.94 538.07h2.28v2.23h-2.28zM504.58 538.64h2.28v1.10h-2.28zM506.22 539.21h2.28v1.66h-2.28zM507.86 538.07h2.28v1.10h-2.28zM509.50 534.96h2.28v1.64h-2.28zM511.14 528.71h2.28v2.78h-2.28zM512.78 532.12h2.28v5.05h-2.28zM514.42 536.10h2.28v1.64h-2.28zM516.06 537.80h2.28v1.64h-2.28zM517.70 532.12h2.28v2.21h-2.28zM519.34 531.55h2.28v1.64h-2.28zM520.98 533.53h2.28v1.66h-2.28zM522.62 523.60h2.28v4.48h-2.28zM524.26 529.85h2.28v3.34h-2.28zM525.90 535.53h2.28v2.21h-2.28zM527.54 534.39h2.28v2.78h-2.28zM529.18 532.96h2.28v1.66h-2.28zM530.82 528.15h2.28v2.78h-2.28zM532.46 533.26h2.28v2.78h-2.28zM534.10 532.69h2.28v3.91h-2.28zM535.74 536.10h2.28v1.07h-2.28zM537.38 538.07h2.28v2.23h-2.28zM539.02 533.26h2.28v1.64h-2.28zM540.66 534.39h2.28v2.78h-2.28zM542.30 529.28h2.28v3.91h-2.28zM543.94 533.83h2.28v1.07h-2.28zM545.58 536.67h2.28v1.64h-2.28zM547.22 536.67h2.28v1.07h-2.28zM548.86 537.51h2.28v1.66h-2.28zM550.50 534.67h2.28v1.10h-2.28zM552.14 536.10h2.28v1.07h-2.28zM553.78 536.10h2.28v1.07h-2.28zM555.42 531.55h2.28v2.21h-2.28zM557.06 526.44h2.28v3.34h-2.28zM558.70 536.10h2.28v2.21h-2.28zM560.34 536.10h2.28v1.64h-2.28zM561.98 536.67h2.28v1.07h-2.28zM563.62 534.39h2.28v2.21h-2.28zM565.26 529.85h2.28v1.07h-2.28zM566.90 523.60h2.28v6.18h-2.28zM568.54 512.81h2.28v10.16h-2.28zM570.18 535.53h2.28v1.07h-2.28zM571.82 533.83h2.28v2.78h-2.28zM573.46 530.42h2.28v3.91h-2.28zM575.10 508.27h2.28v9.02h-2.28zM576.74 522.47h2.28v5.62h-2.28zM578.38 520.19h2.28v9.59h-2.28zM580.02 517.35h2.28v3.34h-2.28zM581.66 519.06h2.28v7.89h-2.28zM583.30 525.31h2.28v3.91h-2.28zM584.94 524.17h2.28v9.02h-2.28zM586.58 508.27h2.28v10.73h-2.28zM588.22 518.49h2.28v11.30h-2.28zM589.86 520.76h2.28v6.75h-2.28zM591.50 504.86h2.28v11.30h-2.28zM593.14 511.11h2.28v7.89h-2.28zM594.78 523.60h2.28v6.18h-2.28zM596.42 526.44h2.28v5.05h-2.28zM598.06 521.90h2.28v8.46h-2.28zM599.70 511.11h2.28v11.30h-2.28zM601.34 515.08h2.28v6.75h-2.28zM602.98 505.99h2.28v9.59h-2.28zM604.62 514.51h2.28v7.32h-2.28zM606.26 524.74h2.28v5.05h-2.28zM607.90 513.95h2.28v10.73h-2.28zM609.54 499.18h2.28v14.14h-2.28zM611.18 503.72h2.28v15.27h-2.28zM612.82 508.27h2.28v10.73h-2.28zM614.46 503.15h2.28v13.57h-2.28zM616.10 495.20h2.28v14.70h-2.28zM617.74 506.56h2.28v12.43h-2.28zM619.38 514.51h2.28v9.02h-2.28zM621.02 490.09h2.28v20.38h-2.28zM622.66 503.15h2.28v13.00h-2.28zM624.30 498.04h2.28v11.86h-2.28zM625.94 495.77h2.28v19.25h-2.28zM627.58 502.02h2.28v14.14h-2.28zM629.22 519.06h2.28v9.59h-2.28zM630.86 495.77h2.28v15.84h-2.28zM632.50 499.75h2.28v14.14h-2.28zM634.14 483.84h2.28v18.11h-2.28zM635.78 477.03h2.28v20.38h-2.28zM637.42 481.00h2.28v20.95h-2.28zM639.06 490.66h2.28v14.14h-2.28zM640.70 502.59h2.28v6.75h-2.28zM642.34 499.75h2.28v7.89h-2.28zM643.98 473.05h2.28v21.52h-2.28zM645.62 466.23h2.28v28.34h-2.28zM647.26 457.71h2.28v26.63h-2.28zM648.90 479.30h2.28v21.52h-2.28zM650.54 478.73h2.28v16.98h-2.28zM652.18 515.08h2.28v7.32h-2.28zM653.82 467.37h2.28v19.25h-2.28zM655.46 453.74h2.28v24.93h-2.28zM657.10 453.17h2.28v23.79h-2.28zM658.74 475.89h2.28v17.54h-2.28zM660.38 484.41h2.28v14.70h-2.28zM662.02 481.57h2.28v16.41h-2.28zM663.66 470.21h2.28v21.52h-2.28zM665.30 429.88h2.28v30.61h-2.28zM666.94 399.78h2.28v38.56h-2.28zM668.58 375.35h2.28v40.26h-2.28zM670.22 385.58h2.28v45.94h-2.28zM671.86 363.43h2.28v53.90h-2.28zM673.50 403.19h2.28v41.97h-2.28zM675.14 451.47h2.28v29.47h-2.28zM676.78 473.05h2.28v19.82h-2.28zM678.42 432.72h2.28v30.61h-2.28zM680.06 396.37h2.28v48.78h-2.28zM681.70 406.59h2.28v42.54h-2.28zM683.34 399.21h2.28v43.67h-2.28zM684.98 427.04h2.28v38.56h-2.28zM686.62 488.95h2.28v16.98h-2.28zM688.26 429.31h2.28v36.86h-2.28zM689.90 442.38h2.28v30.04h-2.28zM691.54 454.31h2.28v29.47h-2.28zM693.18 463.39h2.28v24.93h-2.28zM694.82 462.83h2.28v27.77h-2.28zM696.46 475.89h2.28v20.38h-2.28zM698.10 506.56h2.28v12.43h-2.28zM699.74 477.59h2.28v16.98h-2.28zM701.38 477.59h2.28v17.54h-2.28zM703.02 482.71h2.28v15.27h-2.28zM704.66 482.71h2.28v16.98h-2.28zM706.30 477.03h2.28v24.36h-2.28zM707.94 502.02h2.28v10.73h-2.28zM709.58 514.51h2.28v6.18h-2.28zM711.22 486.68h2.28v19.82h-2.28zM712.86 502.59h2.28v13.00h-2.28zM714.50 496.91h2.28v11.86h-2.28zM716.14 483.84h2.28v22.66h-2.28zM717.78 502.02h2.28v14.70h-2.28zM719.42 503.72h2.28v13.00h-2.28zM721.06 523.03h2.28v6.75h-2.28zM722.70 509.97h2.28v8.46h-2.28zM724.34 506.56h2.28v9.02h-2.28zM725.98 509.40h2.28v10.73h-2.28zM727.62 524.74h2.28v4.48h-2.28zM729.26 511.67h2.28v9.02h-2.28zM730.90 512.81h2.28v9.59h-2.28zM732.54 526.44h2.28v3.34h-2.28zM734.18 508.27h2.28v14.70h-2.28zM735.82 505.43h2.28v10.73h-2.28zM737.46 506.56h2.28v12.43h-2.28zM739.10 522.47h2.28v6.18h-2.28zM740.74 520.76h2.28v6.18h-2.28zM742.38 526.44h2.28v2.78h-2.28zM744.02 529.85h2.28v2.21h-2.28zM745.66 519.63h2.28v7.89h-2.28zM747.30 512.81h2.28v6.18h-2.28zM748.94 521.90h2.28v6.75h-2.28zM750.58 516.22h2.28v10.73h-2.28zM752.22 516.22h2.28v8.46h-2.28zM753.86 530.42h2.28v4.48h-2.28zM755.50 529.85h2.28v2.21h-2.28zM757.14 526.44h2.28v5.62h-2.28zM758.78 515.08h2.28v5.62h-2.28zM760.42 523.03h2.28v8.46h-2.28zM762.06 521.90h2.28v6.18h-2.28z"/><path fill="#3AC8DC" d="M125.74 542.05h2.28v2.23h-2.28zM165.10 542.05h2.28v2.23h-2.28zM168.38 542.05h2.28v2.23h-2.28zM170.02 541.48h2.28v2.23h-2.28zM176.58 542.05h2.28v2.23h-2.28zM184.78 542.05h2.28v2.23h-2.28zM188.06 540.91h2.28v1.66h-2.28zM192.98 541.48h2.28v2.23h-2.28zM201.18 540.35h2.28v2.23h-2.28zM204.46 541.48h2.28v2.23h-2.28zM206.10 541.48h2.28v1.66h-2.28zM207.74 538.07h2.28v2.23h-2.28zM209.38 540.91h2.28v1.66h-2.28zM211.02 539.51h2.28v1.64h-2.28zM212.66 539.51h2.28v1.64h-2.28zM214.30 538.94h2.28v1.64h-2.28zM215.94 534.39h2.28v2.21h-2.28zM217.58 540.35h2.28v1.10h-2.28zM219.22 539.21h2.28v1.10h-2.28zM220.86 531.83h2.28v1.10h-2.28zM222.50 532.12h2.28v4.48h-2.28zM224.14 536.10h2.28v4.48h-2.28zM225.78 536.10h2.28v2.78h-2.28zM227.42 534.96h2.28v1.07h-2.28zM229.06 536.10h2.28v1.07h-2.28zM230.70 537.23h2.28v1.07h-2.28zM232.34 532.12h2.28v4.48h-2.28zM233.98 533.83h2.28v3.34h-2.28zM235.62 533.26h2.28v5.05h-2.28zM237.26 533.83h2.28v4.48h-2.28zM238.90 538.64h2.28v1.10h-2.28zM240.54 539.78h2.28v1.66h-2.28zM242.18 539.51h2.28v1.07h-2.28zM243.82 537.23h2.28v2.21h-2.28zM245.46 539.21h2.28v1.10h-2.28zM247.10 536.10h2.28v3.34h-2.28zM248.74 539.21h2.28v1.66h-2.28zM250.38 540.35h2.28v2.23h-2.28zM252.02 542.05h2.28v2.23h-2.28zM253.66 541.48h2.28v1.66h-2.28zM255.30 539.21h2.28v1.10h-2.28zM256.94 540.91h2.28v1.66h-2.28zM258.58 540.91h2.28v1.10h-2.28zM260.22 537.51h2.28v2.23h-2.28zM261.86 542.05h2.28v1.66h-2.28zM263.50 540.35h2.28v2.23h-2.28zM265.14 539.78h2.28v1.10h-2.28zM266.78 540.91h2.28v2.23h-2.28zM268.42 541.21h2.28v1.07h-2.28zM270.06 539.51h2.28v1.64h-2.28zM271.70 540.64h2.28v1.07h-2.28zM273.34 542.05h2.28v2.23h-2.28zM278.26 542.05h2.28v2.23h-2.28zM284.82 542.05h2.28v2.23h-2.28zM289.74 542.05h2.28v1.66h-2.28zM325.82 541.48h2.28v2.23h-2.28zM337.30 540.91h2.28v2.23h-2.28zM338.94 540.91h2.28v2.23h-2.28zM340.58 540.91h2.28v2.23h-2.28zM343.86 539.78h2.28v2.23h-2.28zM345.50 539.51h2.28v1.64h-2.28zM347.14 539.78h2.28v2.23h-2.28zM348.78 539.21h2.28v2.23h-2.28zM350.42 537.51h2.28v2.23h-2.28zM353.70 539.21h2.28v2.23h-2.28zM355.34 536.37h2.28v1.66h-2.28zM356.98 538.07h2.28v1.10h-2.28zM358.62 536.37h2.28v1.66h-2.28zM360.26 534.10h2.28v1.66h-2.28zM361.90 535.23h2.28v2.23h-2.28zM363.54 532.69h2.28v1.64h-2.28zM370.10 519.63h2.28v2.21h-2.28zM371.74 530.12h2.28v2.23h-2.28zM373.38 524.74h2.28v1.64h-2.28zM375.02 534.67h2.28v1.66h-2.28zM376.66 528.71h2.28v1.07h-2.28zM378.30 531.83h2.28v1.66h-2.28zM379.94 528.71h2.28v1.07h-2.28zM381.58 519.63h2.28v5.05h-2.28zM383.22 525.31h2.28v2.78h-2.28zM384.86 524.17h2.28v1.64h-2.28zM386.50 528.99h2.28v1.10h-2.28zM388.14 531.55h2.28v2.78h-2.28zM389.78 524.74h2.28v3.34h-2.28zM391.42 520.76h2.28v3.91h-2.28zM393.06 516.79h2.28v4.48h-2.28zM394.70 524.17h2.28v1.64h-2.28zM396.34 522.47h2.28v3.91h-2.28zM397.98 530.42h2.28v2.78h-2.28zM399.62 530.69h2.28v1.66h-2.28zM401.26 521.90h2.28v5.05h-2.28zM402.90 523.03h2.28v5.05h-2.28zM404.54 523.60h2.28v2.21h-2.28zM406.18 517.92h2.28v5.05h-2.28zM407.82 513.38h2.28v3.91h-2.28zM409.46 512.81h2.28v2.21h-2.28zM411.10 525.87h2.28v1.64h-2.28zM412.74 525.87h2.28v2.78h-2.28zM414.38 517.35h2.28v5.05h-2.28zM416.02 505.99h2.28v11.30h-2.28zM417.66 526.44h2.28v1.07h-2.28zM419.30 509.97h2.28v6.75h-2.28zM420.94 521.33h2.28v4.48h-2.28zM422.58 523.87h2.28v1.66h-2.28zM424.22 527.58h2.28v1.64h-2.28zM425.86 530.69h2.28v1.66h-2.28zM427.50 523.87h2.28v1.10h-2.28zM429.14 520.76h2.28v2.78h-2.28zM430.78 518.49h2.28v2.78h-2.28zM432.42 525.87h2.28v2.78h-2.28zM434.06 522.47h2.28v3.91h-2.28zM435.70 524.17h2.28v3.34h-2.28zM437.34 521.33h2.28v1.64h-2.28zM438.98 514.51h2.28v5.62h-2.28zM440.62 524.74h2.28v2.78h-2.28zM442.26 515.08h2.28v4.48h-2.28zM443.90 523.60h2.28v1.07h-2.28zM445.54 529.28h2.28v1.64h-2.28zM447.18 528.15h2.28v3.91h-2.28zM448.82 530.99h2.28v3.91h-2.28zM450.46 509.40h2.28v2.78h-2.28zM452.10 521.90h2.28v2.78h-2.28zM453.74 516.79h2.28v7.32h-2.28zM455.38 525.87h2.28v2.78h-2.28zM458.66 527.58h2.28v3.34h-2.28zM460.30 528.15h2.28v1.07h-2.28zM461.94 523.03h2.28v3.34h-2.28zM463.58 531.26h2.28v1.66h-2.28zM465.22 531.55h2.28v3.34h-2.28zM466.86 534.39h2.28v1.64h-2.28zM468.50 538.07h2.28v1.66h-2.28zM470.14 539.21h2.28v1.66h-2.28zM473.42 530.12h2.28v1.66h-2.28zM475.06 533.83h2.28v2.21h-2.28zM476.70 530.99h2.28v1.07h-2.28zM478.34 538.64h2.28v1.10h-2.28zM479.98 538.37h2.28v1.07h-2.28zM481.62 535.53h2.28v1.64h-2.28zM483.26 535.23h2.28v1.66h-2.28zM484.90 536.10h2.28v1.64h-2.28zM486.54 535.23h2.28v1.10h-2.28zM488.18 538.37h2.28v1.07h-2.28zM489.82 535.80h2.28v1.10h-2.28zM491.46 538.64h2.28v2.23h-2.28zM493.10 537.51h2.28v1.66h-2.28zM494.74 538.07h2.28v1.10h-2.28zM496.38 539.51h2.28v1.64h-2.28zM498.02 533.83h2.28v3.91h-2.28zM499.66 530.69h2.28v1.66h-2.28zM501.30 528.71h2.28v3.34h-2.28zM502.94 537.51h2.28v1.66h-2.28zM504.58 534.39h2.28v3.34h-2.28zM506.22 537.80h2.28v1.07h-2.28zM507.86 534.39h2.28v2.78h-2.28zM509.50 530.42h2.28v3.34h-2.28zM511.14 524.74h2.28v2.78h-2.28zM512.78 529.85h2.28v1.07h-2.28zM514.42 532.69h2.28v2.21h-2.28zM516.06 535.80h2.28v1.66h-2.28zM517.70 527.58h2.28v3.34h-2.28zM519.34 528.71h2.28v1.64h-2.28zM520.98 532.39h2.28v1.10h-2.28zM522.62 517.35h2.28v5.05h-2.28zM524.26 527.01h2.28v1.64h-2.28zM525.90 533.53h2.28v1.66h-2.28zM527.54 532.39h2.28v2.23h-2.28zM529.18 528.15h2.28v4.48h-2.28zM530.82 523.60h2.28v3.34h-2.28zM532.46 529.85h2.28v2.21h-2.28zM534.10 525.87h2.28v5.62h-2.28zM535.74 533.83h2.28v1.07h-2.28zM537.38 537.51h2.28v1.66h-2.28zM539.02 529.85h2.28v2.21h-2.28zM540.66 531.55h2.28v1.64h-2.28zM542.30 524.74h2.28v3.34h-2.28zM543.94 529.85h2.28v2.78h-2.28zM545.58 531.55h2.28v3.91h-2.28zM547.22 534.39h2.28v1.07h-2.28zM548.86 536.37h2.28v1.10h-2.28zM550.50 530.42h2.28v3.34h-2.28zM552.14 532.69h2.28v2.21h-2.28zM553.78 532.69h2.28v2.21h-2.28zM555.42 528.15h2.28v2.21h-2.28zM557.06 520.19h2.28v5.05h-2.28zM558.70 532.69h2.28v2.21h-2.28zM560.34 533.83h2.28v1.07h-2.28zM561.98 533.83h2.28v1.64h-2.28zM563.62 530.42h2.28v2.78h-2.28zM565.26 527.01h2.28v1.64h-2.28zM566.90 520.19h2.28v2.21h-2.28zM568.54 507.70h2.28v3.91h-2.28zM570.18 531.55h2.28v2.78h-2.28zM571.82 531.55h2.28v1.07h-2.28zM573.46 524.74h2.28v4.48h-2.28zM575.10 500.31h2.28v6.75h-2.28zM576.74 517.92h2.28v3.34h-2.28zM578.38 511.11h2.28v7.89h-2.28zM580.02 513.95h2.28v2.21h-2.28zM581.66 511.11h2.28v6.75h-2.28zM583.30 521.33h2.28v2.78h-2.28zM584.94 513.38h2.28v9.59h-2.28zM586.58 500.31h2.28v6.75h-2.28zM588.22 509.40h2.28v7.89h-2.28zM589.86 513.38h2.28v6.18h-2.28zM591.50 488.39h2.28v15.27h-2.28zM593.14 502.59h2.28v7.32h-2.28zM594.78 517.35h2.28v5.05h-2.28zM596.42 520.76h2.28v4.48h-2.28zM598.06 515.08h2.28v5.62h-2.28zM599.70 496.91h2.28v13.00h-2.28zM601.34 508.27h2.28v5.62h-2.28zM602.98 494.07h2.28v10.73h-2.28zM604.62 506.56h2.28v6.75h-2.28zM606.26 517.92h2.28v5.62h-2.28zM607.90 510.54h2.28v2.21h-2.28zM609.54 484.41h2.28v13.57h-2.28zM611.18 489.52h2.28v13.00h-2.28zM612.82 495.20h2.28v11.86h-2.28zM614.46 490.09h2.28v11.86h-2.28zM616.10 478.16h2.28v15.84h-2.28zM617.74 496.91h2.28v8.46h-2.28zM619.38 505.43h2.28v7.89h-2.28zM621.02 476.46h2.28v12.43h-2.28zM622.66 486.68h2.28v15.27h-2.28zM624.30 482.14h2.28v14.70h-2.28zM625.94 484.41h2.28v10.16h-2.28zM627.58 487.82h2.28v13.00h-2.28zM629.22 514.51h2.28v3.34h-2.28zM630.86 486.11h2.28v8.46h-2.28zM632.50 488.39h2.28v10.16h-2.28zM634.14 469.07h2.28v13.57h-2.28zM635.78 458.28h2.28v17.54h-2.28zM637.42 462.83h2.28v16.98h-2.28zM639.06 479.30h2.28v10.16h-2.28zM640.70 486.68h2.28v14.70h-2.28zM642.34 486.11h2.28v12.43h-2.28zM643.98 449.76h2.28v22.09h-2.28zM645.62 444.08h2.28v20.95h-2.28zM647.26 434.43h2.28v22.09h-2.28zM648.90 454.31h2.28v23.79h-2.28zM650.54 463.39h2.28v14.14h-2.28zM652.18 504.29h2.28v9.59h-2.28zM653.82 446.35h2.28v19.82h-2.28zM655.46 431.59h2.28v20.95h-2.28zM657.10 424.77h2.28v27.20h-2.28zM658.74 455.44h2.28v19.25h-2.28zM660.38 467.94h2.28v15.27h-2.28zM662.02 462.83h2.28v17.54h-2.28zM663.66 444.08h2.28v24.93h-2.28zM665.30 403.19h2.28v25.50h-2.28zM666.94 361.72h2.28v36.86h-2.28zM668.58 325.94h2.28v48.22h-2.28zM670.22 347.52h2.28v36.86h-2.28zM671.86 317.42h2.28v44.81h-2.28zM673.50 358.88h2.28v43.10h-2.28zM675.14 425.34h2.28v24.93h-2.28zM676.78 458.28h2.28v13.57h-2.28zM678.42 406.59h2.28v24.93h-2.28zM680.06 366.83h2.28v28.34h-2.28zM681.70 362.86h2.28v42.54h-2.28zM683.34 352.63h2.28v45.38h-2.28zM684.98 386.15h2.28v39.70h-2.28zM686.62 468.51h2.28v19.25h-2.28zM688.26 390.69h2.28v37.42h-2.28zM689.90 406.59h2.28v34.58h-2.28zM691.54 421.93h2.28v31.18h-2.28zM693.18 431.02h2.28v31.18h-2.28zM694.82 439.54h2.28v22.09h-2.28zM696.46 442.95h2.28v31.74h-2.28zM698.10 495.77h2.28v9.59h-2.28zM699.74 461.12h2.28v15.27h-2.28zM701.38 458.28h2.28v18.11h-2.28zM703.02 461.12h2.28v20.38h-2.28zM704.66 466.80h2.28v14.70h-2.28zM706.30 457.71h2.28v18.11h-2.28zM707.94 486.68h2.28v14.14h-2.28zM709.58 505.99h2.28v7.32h-2.28zM711.22 467.94h2.28v17.54h-2.28zM712.86 488.39h2.28v13.00h-2.28zM714.50 479.30h2.28v16.41h-2.28zM716.14 469.64h2.28v13.00h-2.28zM717.78 482.14h2.28v18.68h-2.28zM719.42 490.66h2.28v11.86h-2.28zM721.06 517.35h2.28v4.48h-2.28zM722.70 496.91h2.28v11.86h-2.28zM724.34 487.82h2.28v17.54h-2.28zM725.98 495.20h2.28v13.00h-2.28zM727.62 517.35h2.28v6.18h-2.28zM729.26 504.29h2.28v6.18h-2.28zM730.90 501.45h2.28v10.16h-2.28zM732.54 520.19h2.28v5.05h-2.28zM734.18 500.88h2.28v6.18h-2.28zM735.82 490.66h2.28v13.57h-2.28zM737.46 493.50h2.28v11.86h-2.28zM739.10 513.38h2.28v7.89h-2.28zM740.74 513.38h2.28v6.18h-2.28zM742.38 519.06h2.28v6.18h-2.28zM744.02 521.90h2.28v6.75h-2.28zM745.66 510.54h2.28v7.89h-2.28zM747.30 508.27h2.28v3.34h-2.28zM748.94 514.51h2.28v6.18h-2.28zM750.58 503.72h2.28v11.30h-2.28zM752.22 504.86h2.28v10.16h-2.28zM753.86 524.17h2.28v5.05h-2.28zM755.50 525.87h2.28v2.78h-2.28zM757.14 516.22h2.28v9.02h-2.28zM758.78 506.56h2.28v7.32h-2.28zM760.42 513.38h2.28v8.46h-2.28zM762.06 511.67h2.28v9.02h-2.28z"/><path fill="#3674CD" d="M171.66 542.05h2.28v2.23h-2.28zM173.30 540.91h2.28v2.23h-2.28zM174.94 541.48h2.28v1.66h-2.28zM184.78 541.48h2.28v2.23h-2.28zM194.62 541.48h2.28v1.66h-2.28zM197.90 541.48h2.28v1.10h-2.28zM201.18 539.78h2.28v2.23h-2.28zM204.46 540.91h2.28v2.23h-2.28zM206.10 540.35h2.28v1.66h-2.28zM207.74 537.23h2.28v1.07h-2.28zM209.38 539.78h2.28v1.66h-2.28zM211.02 537.51h2.28v1.66h-2.28zM212.66 537.23h2.28v1.07h-2.28zM214.30 536.67h2.28v1.07h-2.28zM215.94 532.39h2.28v1.66h-2.28zM217.58 538.37h2.28v1.07h-2.28zM219.22 537.51h2.28v1.10h-2.28zM220.86 528.71h2.28v2.21h-2.28zM222.50 525.87h2.28v5.05h-2.28zM224.14 532.69h2.28v2.21h-2.28zM225.78 532.69h2.28v2.21h-2.28zM227.42 530.42h2.28v3.34h-2.28zM229.06 534.10h2.28v1.10h-2.28zM230.70 533.83h2.28v2.21h-2.28zM232.34 524.17h2.28v6.75h-2.28zM233.98 528.71h2.28v3.91h-2.28zM235.62 529.85h2.28v2.21h-2.28zM237.26 529.28h2.28v3.34h-2.28zM238.90 536.94h2.28v1.10h-2.28zM240.54 538.64h2.28v1.66h-2.28zM242.18 537.23h2.28v1.07h-2.28zM243.82 531.55h2.28v4.48h-2.28zM245.46 537.23h2.28v1.07h-2.28zM247.10 534.10h2.28v1.66h-2.28zM250.38 539.78h2.28v1.10h-2.28zM252.02 541.48h2.28v2.23h-2.28zM253.66 540.35h2.28v2.23h-2.28zM256.94 539.78h2.28v2.23h-2.28zM258.58 539.21h2.28v1.10h-2.28zM260.22 536.94h2.28v1.10h-2.28zM261.86 540.91h2.28v2.23h-2.28zM265.14 538.07h2.28v1.66h-2.28zM266.78 540.35h2.28v1.66h-2.28zM270.06 537.51h2.28v2.23h-2.28zM271.70 538.64h2.28v1.66h-2.28zM273.34 541.48h2.28v2.23h-2.28zM274.98 542.05h2.28v2.23h-2.28zM278.26 541.48h2.28v2.23h-2.28zM279.90 541.48h2.28v2.23h-2.28zM283.18 541.48h2.28v2.23h-2.28zM301.22 542.05h2.28v2.23h-2.28zM327.46 542.05h2.28v2.23h-2.28zM335.66 540.91h2.28v2.23h-2.28zM338.94 540.35h2.28v2.23h-2.28zM340.58 540.35h2.28v2.23h-2.28zM347.14 539.21h2.28v1.10h-2.28zM348.78 538.64h2.28v1.10h-2.28zM350.42 536.94h2.28v2.23h-2.28zM353.70 538.64h2.28v1.66h-2.28zM356.98 536.10h2.28v1.07h-2.28zM358.62 534.96h2.28v1.07h-2.28zM360.26 532.96h2.28v2.23h-2.28zM361.90 534.67h2.28v1.66h-2.28zM363.54 530.69h2.28v1.10h-2.28zM365.18 537.51h2.28v1.66h-2.28zM366.82 534.10h2.28v1.10h-2.28zM368.46 535.23h2.28v1.10h-2.28zM370.10 517.63h2.28v1.10h-2.28zM371.74 529.55h2.28v1.10h-2.28zM373.38 522.47h2.28v1.07h-2.28zM375.02 533.26h2.28v1.07h-2.28zM376.66 526.71h2.28v1.66h-2.28zM378.30 529.85h2.28v1.64h-2.28zM379.94 526.44h2.28v1.07h-2.28zM381.58 515.65h2.28v2.78h-2.28zM383.22 521.90h2.28v2.21h-2.28zM384.86 520.19h2.28v2.78h-2.28zM386.50 525.87h2.28v2.21h-2.28zM388.14 528.71h2.28v1.64h-2.28zM389.78 521.90h2.28v1.64h-2.28zM391.42 517.92h2.28v1.64h-2.28zM393.06 514.79h2.28v1.10h-2.28zM394.70 522.17h2.28v1.10h-2.28zM396.34 520.47h2.28v1.10h-2.28zM397.98 528.42h2.28v1.66h-2.28zM399.62 529.55h2.28v2.23h-2.28zM401.26 519.06h2.28v1.64h-2.28zM402.90 520.19h2.28v1.64h-2.28zM406.18 512.24h2.28v4.48h-2.28zM407.82 508.83h2.28v3.34h-2.28zM409.46 507.13h2.28v4.48h-2.28zM411.10 521.90h2.28v2.78h-2.28zM412.74 523.87h2.28v1.66h-2.28zM414.38 515.08h2.28v1.07h-2.28zM416.02 498.61h2.28v6.18h-2.28zM417.66 522.47h2.28v2.78h-2.28zM419.30 504.86h2.28v3.91h-2.28zM420.94 519.06h2.28v1.07h-2.28zM422.58 521.90h2.28v1.64h-2.28zM424.22 525.58h2.28v1.10h-2.28zM425.86 527.58h2.28v2.78h-2.28zM427.50 521.90h2.28v1.07h-2.28zM429.14 517.35h2.28v2.21h-2.28zM430.78 513.38h2.28v3.91h-2.28zM434.06 520.19h2.28v1.07h-2.28zM435.70 521.33h2.28v1.64h-2.28zM437.34 519.06h2.28v1.07h-2.28zM438.98 508.27h2.28v5.05h-2.28zM440.62 520.19h2.28v3.34h-2.28zM442.26 511.67h2.28v2.21h-2.28zM443.90 521.33h2.28v1.07h-2.28zM445.54 525.31h2.28v2.78h-2.28zM447.18 525.31h2.28v1.64h-2.28zM448.82 528.15h2.28v1.64h-2.28zM450.46 503.72h2.28v4.48h-2.28zM452.10 519.90h2.28v1.66h-2.28zM453.74 513.38h2.28v2.21h-2.28zM455.38 522.47h2.28v2.21h-2.28zM457.02 534.67h2.28v1.10h-2.28zM458.66 523.60h2.28v2.78h-2.28zM460.30 526.15h2.28v2.23h-2.28zM461.94 519.63h2.28v2.21h-2.28zM463.58 530.12h2.28v2.23h-2.28zM465.22 529.55h2.28v2.23h-2.28zM466.86 532.39h2.28v2.23h-2.28zM468.50 536.94h2.28v1.10h-2.28zM470.14 538.07h2.28v1.10h-2.28zM471.78 536.37h2.28v2.23h-2.28zM473.42 528.71h2.28v1.07h-2.28zM475.06 531.55h2.28v1.07h-2.28zM476.70 528.99h2.28v1.10h-2.28zM478.34 536.94h2.28v2.23h-2.28zM479.98 536.10h2.28v1.07h-2.28zM483.26 533.26h2.28v1.64h-2.28zM484.90 534.10h2.28v2.23h-2.28zM486.54 532.12h2.28v2.21h-2.28zM488.18 536.37h2.28v1.66h-2.28zM489.82 534.10h2.28v1.66h-2.28zM491.46 538.07h2.28v1.66h-2.28zM493.10 536.10h2.28v1.07h-2.28zM496.38 537.23h2.28v1.07h-2.28zM498.02 531.83h2.28v1.10h-2.28zM499.66 529.55h2.28v1.66h-2.28zM501.30 526.71h2.28v2.23h-2.28zM502.94 536.10h2.28v1.07h-2.28zM504.58 530.99h2.28v2.21h-2.28zM506.22 535.80h2.28v2.23h-2.28zM507.86 532.12h2.28v1.07h-2.28zM509.50 528.15h2.28v1.07h-2.28zM511.14 522.47h2.28v1.07h-2.28zM512.78 527.01h2.28v1.64h-2.28zM514.42 530.69h2.28v1.66h-2.28zM516.06 534.67h2.28v1.10h-2.28zM517.70 525.58h2.28v1.10h-2.28zM519.34 524.17h2.28v3.34h-2.28zM520.98 529.85h2.28v1.64h-2.28zM522.62 511.67h2.28v4.48h-2.28zM524.26 523.60h2.28v2.21h-2.28zM525.90 531.55h2.28v1.64h-2.28zM527.54 528.71h2.28v3.91h-2.28zM529.18 523.03h2.28v3.91h-2.28zM530.82 520.76h2.28v1.64h-2.28zM532.46 527.01h2.28v1.64h-2.28zM534.10 520.76h2.28v3.91h-2.28zM535.74 531.83h2.28v1.66h-2.28zM537.38 534.39h2.28v2.78h-2.28zM539.02 526.44h2.28v2.21h-2.28zM540.66 527.58h2.28v2.78h-2.28zM542.30 522.47h2.28v1.07h-2.28zM543.94 527.85h2.28v1.10h-2.28zM545.58 528.71h2.28v1.64h-2.28zM547.22 532.39h2.28v1.10h-2.28zM548.86 534.67h2.28v1.10h-2.28zM550.50 528.15h2.28v1.07h-2.28zM552.14 529.28h2.28v2.21h-2.28zM553.78 529.28h2.28v2.21h-2.28zM555.42 526.15h2.28v1.66h-2.28zM557.06 516.22h2.28v2.78h-2.28zM558.70 529.85h2.28v1.64h-2.28zM560.34 531.83h2.28v2.23h-2.28zM561.98 529.28h2.28v3.34h-2.28zM563.62 527.01h2.28v2.21h-2.28zM565.26 520.76h2.28v5.05h-2.28zM566.90 513.38h2.28v5.62h-2.28zM568.54 498.04h2.28v8.46h-2.28zM570.18 525.31h2.28v5.05h-2.28zM571.82 528.15h2.28v2.21h-2.28zM573.46 518.49h2.28v5.05h-2.28zM575.10 487.82h2.28v11.30h-2.28zM576.74 513.38h2.28v3.34h-2.28zM578.38 503.72h2.28v6.18h-2.28zM580.02 506.56h2.28v6.18h-2.28zM581.66 502.59h2.28v7.32h-2.28zM583.30 514.51h2.28v5.62h-2.28zM584.94 503.72h2.28v8.46h-2.28zM586.58 490.66h2.28v8.46h-2.28zM588.22 503.15h2.28v5.05h-2.28zM589.86 503.72h2.28v8.46h-2.28zM591.50 470.78h2.28v16.41h-2.28zM593.14 490.09h2.28v11.30h-2.28zM594.78 512.81h2.28v3.34h-2.28zM596.42 516.79h2.28v2.78h-2.28zM598.06 504.86h2.28v9.02h-2.28zM599.70 487.82h2.28v7.89h-2.28zM601.34 498.04h2.28v9.02h-2.28zM602.98 483.84h2.28v9.02h-2.28zM604.62 498.04h2.28v7.32h-2.28zM606.26 510.54h2.28v6.18h-2.28zM607.90 502.02h2.28v7.32h-2.28zM609.54 471.35h2.28v11.86h-2.28zM611.18 473.62h2.28v14.70h-2.28zM612.82 485.55h2.28v8.46h-2.28zM614.46 472.48h2.28v16.41h-2.28zM616.10 465.10h2.28v11.86h-2.28zM617.74 488.39h2.28v7.32h-2.28zM619.38 495.77h2.28v8.46h-2.28zM621.02 463.96h2.28v11.30h-2.28zM622.66 474.19h2.28v11.30h-2.28zM624.30 461.69h2.28v19.25h-2.28zM625.94 470.78h2.28v12.43h-2.28zM627.58 474.75h2.28v11.86h-2.28zM629.22 509.40h2.28v3.91h-2.28zM630.86 475.32h2.28v9.59h-2.28zM632.50 476.46h2.28v10.73h-2.28zM634.14 450.90h2.28v16.98h-2.28zM635.78 438.97h2.28v18.11h-2.28zM637.42 444.65h2.28v16.98h-2.28zM639.06 468.51h2.28v9.59h-2.28zM640.70 480.43h2.28v5.05h-2.28zM642.34 474.19h2.28v10.73h-2.28zM643.98 433.86h2.28v14.70h-2.28zM645.62 421.36h2.28v21.52h-2.28zM647.26 416.25h2.28v16.98h-2.28zM648.90 433.29h2.28v19.82h-2.28zM650.54 444.65h2.28v17.54h-2.28zM652.18 494.63h2.28v8.46h-2.28zM653.82 424.20h2.28v20.95h-2.28zM655.46 406.03h2.28v24.36h-2.28zM657.10 407.73h2.28v15.84h-2.28zM658.74 442.95h2.28v11.30h-2.28zM660.38 452.03h2.28v14.70h-2.28zM662.02 453.17h2.28v8.46h-2.28zM663.66 431.02h2.28v11.86h-2.28zM665.30 375.92h2.28v26.06h-2.28zM666.94 322.53h2.28v37.99h-2.28zM668.58 286.75h2.28v37.99h-2.28zM670.22 309.47h2.28v36.86h-2.28zM671.86 270.84h2.28v45.38h-2.28zM673.50 317.42h2.28v40.26h-2.28zM675.14 406.03h2.28v18.11h-2.28zM676.78 437.83h2.28v19.25h-2.28zM678.42 378.19h2.28v27.20h-2.28zM680.06 332.19h2.28v33.45h-2.28zM681.70 317.99h2.28v43.67h-2.28zM683.34 314.01h2.28v37.42h-2.28zM684.98 355.47h2.28v29.47h-2.28zM686.62 455.44h2.28v11.86h-2.28zM688.26 363.99h2.28v25.50h-2.28zM689.90 375.92h2.28v29.47h-2.28zM691.54 390.69h2.28v30.04h-2.28zM693.18 401.48h2.28v28.34h-2.28zM694.82 411.14h2.28v27.20h-2.28zM696.46 412.27h2.28v29.47h-2.28zM698.10 487.25h2.28v7.32h-2.28zM699.74 438.97h2.28v20.95h-2.28zM701.38 435.56h2.28v21.52h-2.28zM703.02 442.38h2.28v17.54h-2.28zM704.66 441.81h2.28v23.79h-2.28zM706.30 436.13h2.28v20.38h-2.28zM707.94 465.67h2.28v19.82h-2.28zM709.58 497.47h2.28v7.32h-2.28zM711.22 457.15h2.28v9.59h-2.28zM712.86 473.62h2.28v13.57h-2.28zM714.50 459.99h2.28v18.11h-2.28zM716.14 455.44h2.28v13.00h-2.28zM717.78 463.39h2.28v17.54h-2.28zM719.42 479.30h2.28v10.16h-2.28zM721.06 508.83h2.28v7.32h-2.28zM722.70 483.84h2.28v11.86h-2.28zM724.34 470.78h2.28v15.84h-2.28zM725.98 481.00h2.28v13.00h-2.28zM727.62 512.81h2.28v3.34h-2.28zM729.26 495.20h2.28v7.89h-2.28zM730.90 494.07h2.28v6.18h-2.28zM732.54 513.95h2.28v5.05h-2.28zM734.18 494.63h2.28v5.05h-2.28zM735.82 476.46h2.28v13.00h-2.28zM737.46 481.57h2.28v10.73h-2.28zM739.10 504.29h2.28v7.89h-2.28zM740.74 508.27h2.28v3.91h-2.28zM742.38 513.95h2.28v3.91h-2.28zM744.02 518.49h2.28v2.21h-2.28zM745.66 502.59h2.28v6.75h-2.28zM747.30 506.27h2.28v1.66h-2.28zM748.94 505.43h2.28v7.89h-2.28zM750.58 490.09h2.28v12.43h-2.28zM752.22 497.47h2.28v6.18h-2.28zM753.86 519.06h2.28v3.91h-2.28zM755.50 521.33h2.28v3.34h-2.28zM757.14 507.70h2.28v7.32h-2.28zM758.78 497.47h2.28v7.89h-2.28zM760.42 505.43h2.28v6.75h-2.28zM762.06 503.72h2.28v6.75h-2.28z"/><path fill="#392EB8" d="M186.42 541.48h2.28v2.23h-2.28zM189.70 542.05h2.28v2.23h-2.28zM191.34 540.91h2.28v2.23h-2.28zM194.62 540.35h2.28v2.23h-2.28zM196.26 540.91h2.28v2.23h-2.28zM202.82 540.91h2.28v2.23h-2.28zM204.46 540.35h2.28v1.10h-2.28zM207.74 535.23h2.28v1.66h-2.28zM211.02 536.37h2.28v1.66h-2.28zM212.66 535.23h2.28v1.66h-2.28zM214.30 533.83h2.28v1.64h-2.28zM215.94 531.26h2.28v2.23h-2.28zM217.58 536.37h2.28v2.23h-2.28zM219.22 535.80h2.28v1.10h-2.28zM220.86 525.87h2.28v1.64h-2.28zM222.50 523.60h2.28v1.07h-2.28zM224.14 528.71h2.28v2.78h-2.28zM225.78 530.42h2.28v1.07h-2.28zM227.42 525.31h2.28v3.91h-2.28zM229.06 532.39h2.28v1.10h-2.28zM230.70 531.83h2.28v1.66h-2.28zM232.34 520.76h2.28v2.21h-2.28zM233.98 526.71h2.28v1.66h-2.28zM235.62 527.85h2.28v1.10h-2.28zM237.26 526.44h2.28v1.64h-2.28zM238.90 534.96h2.28v1.07h-2.28zM240.54 537.51h2.28v2.23h-2.28zM242.18 534.39h2.28v1.64h-2.28zM243.82 527.01h2.28v3.34h-2.28zM245.46 535.23h2.28v2.23h-2.28zM247.10 532.69h2.28v1.07h-2.28zM248.74 538.07h2.28v2.23h-2.28zM250.38 538.07h2.28v1.66h-2.28zM252.02 540.91h2.28v1.10h-2.28zM253.66 539.78h2.28v1.10h-2.28zM255.30 537.51h2.28v1.66h-2.28zM258.58 537.51h2.28v2.23h-2.28zM260.22 535.23h2.28v1.10h-2.28zM261.86 540.35h2.28v2.23h-2.28zM263.50 539.78h2.28v2.23h-2.28zM265.14 536.67h2.28v1.07h-2.28zM268.42 539.21h2.28v2.23h-2.28zM270.06 536.94h2.28v2.23h-2.28zM271.70 537.51h2.28v2.23h-2.28zM278.26 540.91h2.28v2.23h-2.28zM281.54 542.05h2.28v2.23h-2.28zM288.10 542.05h2.28v2.23h-2.28zM302.86 542.05h2.28v2.23h-2.28zM325.82 540.91h2.28v2.23h-2.28zM337.30 540.35h2.28v2.23h-2.28zM338.94 539.78h2.28v2.23h-2.28zM342.22 538.64h2.28v2.23h-2.28zM343.86 539.21h2.28v2.23h-2.28zM347.14 537.51h2.28v2.23h-2.28zM348.78 536.94h2.28v2.23h-2.28zM353.70 537.51h2.28v2.23h-2.28zM355.34 535.23h2.28v2.23h-2.28zM356.98 534.10h2.28v2.23h-2.28zM358.62 532.96h2.28v1.66h-2.28zM360.26 532.39h2.28v1.66h-2.28zM365.18 536.37h2.28v2.23h-2.28zM366.82 532.39h2.28v1.66h-2.28zM368.46 533.53h2.28v1.66h-2.28zM370.10 515.92h2.28v2.23h-2.28zM371.74 527.58h2.28v1.07h-2.28zM373.38 519.63h2.28v1.64h-2.28zM375.02 531.26h2.28v1.10h-2.28zM378.30 527.85h2.28v1.66h-2.28zM379.94 524.44h2.28v1.66h-2.28zM381.58 513.38h2.28v1.07h-2.28zM383.22 519.90h2.28v1.66h-2.28zM384.86 518.19h2.28v1.66h-2.28zM386.50 523.87h2.28v2.23h-2.28zM389.78 519.90h2.28v2.23h-2.28zM391.42 515.92h2.28v2.23h-2.28zM393.06 509.97h2.28v3.91h-2.28zM394.70 520.47h2.28v1.66h-2.28zM396.34 518.76h2.28v1.10h-2.28zM397.98 527.28h2.28v1.66h-2.28zM399.62 528.99h2.28v1.66h-2.28zM401.26 515.65h2.28v2.21h-2.28zM402.90 516.79h2.28v2.21h-2.28zM404.54 520.19h2.28v2.21h-2.28zM406.18 509.40h2.28v1.64h-2.28zM409.46 503.72h2.28v2.21h-2.28zM411.10 519.90h2.28v1.66h-2.28zM412.74 522.74h2.28v1.10h-2.28zM414.38 513.08h2.28v1.10h-2.28zM416.02 496.34h2.28v1.07h-2.28zM417.66 520.47h2.28v2.23h-2.28zM419.30 502.02h2.28v1.64h-2.28zM420.94 516.22h2.28v1.64h-2.28zM422.58 519.90h2.28v1.10h-2.28zM424.22 523.87h2.28v2.23h-2.28zM425.86 523.03h2.28v3.34h-2.28zM427.50 517.92h2.28v2.78h-2.28zM430.78 509.97h2.28v2.21h-2.28zM432.42 522.47h2.28v2.21h-2.28zM434.06 518.19h2.28v1.10h-2.28zM435.70 519.33h2.28v1.66h-2.28zM437.34 517.06h2.28v2.23h-2.28zM438.98 506.27h2.28v1.10h-2.28zM440.62 518.19h2.28v1.10h-2.28zM442.26 509.67h2.28v1.10h-2.28zM443.90 519.33h2.28v1.66h-2.28zM445.54 523.31h2.28v1.66h-2.28zM447.18 523.31h2.28v2.23h-2.28zM448.82 524.17h2.28v2.78h-2.28zM450.46 501.45h2.28v1.07h-2.28zM452.10 518.76h2.28v1.10h-2.28zM453.74 509.97h2.28v2.21h-2.28zM455.38 520.19h2.28v1.07h-2.28zM457.02 532.96h2.28v1.10h-2.28zM458.66 521.60h2.28v1.66h-2.28zM460.30 525.58h2.28v1.66h-2.28zM461.94 516.22h2.28v2.21h-2.28zM463.58 529.55h2.28v1.66h-2.28zM465.22 528.99h2.28v2.23h-2.28zM466.86 531.83h2.28v2.23h-2.28zM468.50 535.23h2.28v2.23h-2.28zM471.78 535.80h2.28v2.23h-2.28zM473.42 526.71h2.28v1.10h-2.28zM475.06 529.55h2.28v1.66h-2.28zM476.70 525.87h2.28v2.21h-2.28zM478.34 536.10h2.28v1.07h-2.28zM483.26 531.26h2.28v1.10h-2.28zM488.18 535.23h2.28v1.66h-2.28zM491.46 536.94h2.28v2.23h-2.28zM494.74 536.37h2.28v2.23h-2.28zM496.38 535.23h2.28v2.23h-2.28zM498.02 530.12h2.28v2.23h-2.28zM499.66 528.42h2.28v2.23h-2.28zM501.30 526.15h2.28v1.66h-2.28zM502.94 534.10h2.28v1.66h-2.28zM506.22 535.23h2.28v1.66h-2.28zM507.86 530.12h2.28v2.23h-2.28zM509.50 526.15h2.28v1.66h-2.28zM511.14 519.63h2.28v1.64h-2.28zM512.78 524.17h2.28v1.64h-2.28zM514.42 529.55h2.28v1.66h-2.28zM516.06 532.96h2.28v1.66h-2.28zM517.70 523.60h2.28v1.07h-2.28zM519.34 522.17h2.28v1.66h-2.28zM520.98 527.85h2.28v2.23h-2.28zM522.62 505.99h2.28v4.48h-2.28zM524.26 521.60h2.28v1.10h-2.28zM525.90 529.55h2.28v1.10h-2.28zM527.54 526.71h2.28v2.23h-2.28zM529.18 521.03h2.28v2.23h-2.28zM530.82 516.79h2.28v2.78h-2.28zM532.46 525.01h2.28v1.66h-2.28zM534.10 518.76h2.28v1.10h-2.28zM535.74 530.69h2.28v1.10h-2.28zM537.38 532.39h2.28v1.66h-2.28zM539.02 524.44h2.28v2.23h-2.28zM540.66 525.58h2.28v1.10h-2.28zM542.30 519.63h2.28v1.64h-2.28zM543.94 526.15h2.28v1.66h-2.28zM545.58 525.87h2.28v1.64h-2.28zM547.22 530.69h2.28v1.10h-2.28zM548.86 532.69h2.28v1.07h-2.28zM550.50 525.87h2.28v1.07h-2.28zM552.14 527.28h2.28v1.66h-2.28zM553.78 527.28h2.28v1.10h-2.28zM555.42 525.01h2.28v1.10h-2.28zM557.06 511.67h2.28v3.34h-2.28zM558.70 527.85h2.28v1.10h-2.28zM560.34 531.26h2.28v2.23h-2.28zM561.98 527.28h2.28v2.23h-2.28zM563.62 525.01h2.28v1.66h-2.28zM565.26 518.76h2.28v1.10h-2.28zM566.90 511.11h2.28v1.07h-2.28zM568.54 494.07h2.28v2.78h-2.28zM570.18 523.03h2.28v1.07h-2.28zM571.82 525.87h2.28v1.07h-2.28zM573.46 515.65h2.28v1.64h-2.28zM575.10 483.27h2.28v3.34h-2.28zM576.74 509.40h2.28v2.78h-2.28zM578.38 499.75h2.28v2.78h-2.28zM580.02 503.72h2.28v1.64h-2.28zM581.66 496.91h2.28v4.48h-2.28zM583.30 512.51h2.28v1.10h-2.28zM584.94 499.75h2.28v2.78h-2.28zM586.58 483.84h2.28v5.62h-2.28zM588.22 492.36h2.28v9.59h-2.28zM589.86 499.18h2.28v3.34h-2.28zM591.50 459.42h2.28v10.16h-2.28zM593.14 481.00h2.28v7.89h-2.28zM594.78 510.81h2.28v1.10h-2.28zM596.42 513.38h2.28v2.21h-2.28zM598.06 502.86h2.28v2.23h-2.28zM599.70 479.87h2.28v6.75h-2.28zM601.34 491.79h2.28v5.05h-2.28zM602.98 477.03h2.28v5.62h-2.28zM604.62 490.09h2.28v6.75h-2.28zM606.26 505.99h2.28v3.34h-2.28zM607.90 496.91h2.28v3.91h-2.28zM609.54 465.10h2.28v5.05h-2.28zM611.18 465.67h2.28v6.75h-2.28zM612.82 481.00h2.28v3.34h-2.28zM614.46 464.53h2.28v6.75h-2.28zM616.10 457.71h2.28v6.18h-2.28zM617.74 484.41h2.28v2.78h-2.28zM619.38 491.23h2.28v3.34h-2.28zM621.02 457.15h2.28v5.62h-2.28zM622.66 465.67h2.28v7.32h-2.28zM624.30 454.87h2.28v5.62h-2.28zM625.94 461.12h2.28v8.46h-2.28zM627.58 465.67h2.28v7.89h-2.28zM629.22 504.29h2.28v3.91h-2.28zM630.86 467.94h2.28v6.18h-2.28zM632.50 468.51h2.28v6.75h-2.28zM634.14 441.81h2.28v7.89h-2.28zM635.78 429.88h2.28v7.89h-2.28zM637.42 432.15h2.28v11.30h-2.28zM639.06 459.99h2.28v7.32h-2.28zM640.70 470.78h2.28v8.46h-2.28zM642.34 467.37h2.28v5.62h-2.28zM643.98 420.23h2.28v12.43h-2.28zM645.62 408.30h2.28v11.86h-2.28zM647.26 407.73h2.28v7.32h-2.28zM648.90 423.63h2.28v8.46h-2.28zM650.54 427.04h2.28v16.41h-2.28zM652.18 488.95h2.28v4.48h-2.28zM653.82 416.82h2.28v6.18h-2.28zM655.46 394.67h2.28v10.16h-2.28zM657.10 396.37h2.28v10.16h-2.28zM658.74 433.29h2.28v8.46h-2.28zM660.38 443.51h2.28v7.32h-2.28zM662.02 445.22h2.28v6.75h-2.28zM663.66 420.23h2.28v9.59h-2.28zM665.30 361.72h2.28v13.00h-2.28zM666.94 302.65h2.28v18.68h-2.28zM668.58 266.87h2.28v18.68h-2.28zM670.22 286.75h2.28v21.52h-2.28zM671.86 241.87h2.28v27.77h-2.28zM673.50 302.08h2.28v14.14h-2.28zM675.14 392.96h2.28v11.86h-2.28zM676.78 432.72h2.28v3.91h-2.28zM678.42 358.88h2.28v18.11h-2.28zM680.06 312.31h2.28v18.68h-2.28zM681.70 300.38h2.28v16.41h-2.28zM683.34 290.72h2.28v22.09h-2.28zM684.98 332.19h2.28v22.09h-2.28zM686.62 445.79h2.28v8.46h-2.28zM688.26 342.41h2.28v20.38h-2.28zM689.90 361.72h2.28v13.00h-2.28zM691.54 368.54h2.28v20.95h-2.28zM693.18 390.69h2.28v9.59h-2.28zM694.82 397.51h2.28v12.43h-2.28zM696.46 394.10h2.28v16.98h-2.28zM698.10 480.43h2.28v5.62h-2.28zM699.74 429.88h2.28v7.89h-2.28zM701.38 425.34h2.28v9.02h-2.28zM703.02 430.45h2.28v10.73h-2.28zM704.66 430.45h2.28v10.16h-2.28zM706.30 425.34h2.28v9.59h-2.28zM707.94 454.87h2.28v9.59h-2.28zM709.58 492.36h2.28v3.91h-2.28zM711.22 448.06h2.28v7.89h-2.28zM712.86 467.94h2.28v4.48h-2.28zM714.50 446.92h2.28v11.86h-2.28zM716.14 445.22h2.28v9.02h-2.28zM717.78 451.47h2.28v10.73h-2.28zM719.42 469.64h2.28v8.46h-2.28zM721.06 500.31h2.28v7.32h-2.28zM722.70 477.03h2.28v5.62h-2.28zM724.34 461.69h2.28v7.89h-2.28zM725.98 470.78h2.28v9.02h-2.28zM727.62 508.27h2.28v3.34h-2.28zM729.26 490.09h2.28v3.91h-2.28zM730.90 483.84h2.28v9.02h-2.28zM732.54 509.97h2.28v2.78h-2.28zM734.18 489.52h2.28v3.91h-2.28zM735.82 466.80h2.28v8.46h-2.28zM737.46 474.19h2.28v6.18h-2.28zM739.10 498.61h2.28v4.48h-2.28zM740.74 504.86h2.28v2.21h-2.28zM742.38 510.54h2.28v2.21h-2.28zM744.02 514.51h2.28v2.78h-2.28zM745.66 497.47h2.28v3.91h-2.28zM747.30 502.59h2.28v3.34h-2.28zM748.94 503.15h2.28v1.07h-2.28zM750.58 484.41h2.28v4.48h-2.28zM752.22 494.63h2.28v1.64h-2.28zM753.86 513.95h2.28v3.91h-2.28zM755.50 517.92h2.28v2.21h-2.28zM757.14 504.29h2.28v2.21h-2.28zM758.78 492.93h2.28v3.34h-2.28zM760.42 502.59h2.28v1.64h-2.28zM762.06 499.75h2.28v2.78h-2.28z"/><path fill="#6B2AA6" d="M166.74 541.48h2.28v2.23h-2.28zM191.34 540.35h2.28v2.23h-2.28zM192.98 540.91h2.28v2.23h-2.28zM196.26 540.35h2.28v1.10h-2.28zM197.90 539.78h2.28v2.23h-2.28zM201.18 539.21h2.28v2.23h-2.28zM204.46 538.64h2.28v2.23h-2.28zM209.38 538.64h2.28v1.66h-2.28zM211.02 535.23h2.28v2.23h-2.28zM212.66 534.10h2.28v2.23h-2.28zM215.94 530.42h2.28v1.07h-2.28zM217.58 535.80h2.28v2.23h-2.28zM219.22 534.10h2.28v1.10h-2.28zM220.86 523.87h2.28v1.10h-2.28zM222.50 520.76h2.28v1.64h-2.28zM224.14 526.71h2.28v1.66h-2.28zM225.78 528.42h2.28v2.23h-2.28zM227.42 523.31h2.28v1.66h-2.28zM229.06 530.42h2.28v1.07h-2.28zM232.34 515.65h2.28v3.91h-2.28zM233.98 525.31h2.28v1.07h-2.28zM235.62 526.15h2.28v2.23h-2.28zM237.26 523.60h2.28v1.64h-2.28zM238.90 532.96h2.28v2.23h-2.28zM240.54 536.67h2.28v1.07h-2.28zM242.18 532.39h2.28v2.23h-2.28zM243.82 524.74h2.28v1.07h-2.28zM245.46 534.39h2.28v1.07h-2.28zM247.10 530.69h2.28v1.66h-2.28zM248.74 537.51h2.28v1.10h-2.28zM250.38 536.94h2.28v2.23h-2.28zM252.02 539.21h2.28v2.23h-2.28zM253.66 538.07h2.28v1.66h-2.28zM255.30 536.37h2.28v2.23h-2.28zM260.22 532.12h2.28v2.21h-2.28zM261.86 539.78h2.28v2.23h-2.28zM263.50 539.21h2.28v2.23h-2.28zM266.78 539.21h2.28v2.23h-2.28zM268.42 538.64h2.28v1.10h-2.28zM270.06 536.10h2.28v1.07h-2.28zM271.70 536.94h2.28v2.23h-2.28zM274.98 541.48h2.28v2.23h-2.28zM283.18 540.91h2.28v2.23h-2.28zM286.46 541.48h2.28v2.23h-2.28zM319.26 542.05h2.28v2.23h-2.28zM322.54 541.48h2.28v2.23h-2.28zM327.46 541.48h2.28v2.23h-2.28zM338.94 539.21h2.28v2.23h-2.28zM347.14 536.94h2.28v2.23h-2.28zM348.78 536.37h2.28v2.23h-2.28zM353.70 536.94h2.28v2.23h-2.28zM358.62 531.83h2.28v1.10h-2.28zM360.26 531.26h2.28v1.66h-2.28zM361.90 533.53h2.28v2.23h-2.28zM363.54 528.99h2.28v1.66h-2.28zM365.18 535.80h2.28v2.23h-2.28zM368.46 532.39h2.28v1.66h-2.28zM370.10 515.35h2.28v2.23h-2.28zM371.74 525.58h2.28v2.23h-2.28zM379.94 523.31h2.28v1.10h-2.28zM384.86 516.79h2.28v1.07h-2.28zM386.50 523.31h2.28v1.66h-2.28zM388.14 526.44h2.28v1.07h-2.28zM389.78 519.33h2.28v2.23h-2.28zM391.42 515.35h2.28v1.66h-2.28zM393.06 507.97h2.28v1.66h-2.28zM396.34 517.06h2.28v2.23h-2.28zM399.62 527.85h2.28v2.23h-2.28zM401.26 513.65h2.28v2.23h-2.28zM402.90 514.79h2.28v1.10h-2.28zM404.54 518.19h2.28v1.66h-2.28zM406.18 507.40h2.28v2.23h-2.28zM407.82 506.83h2.28v2.23h-2.28zM409.46 501.45h2.28v1.07h-2.28zM411.10 518.49h2.28v1.07h-2.28zM412.74 521.03h2.28v1.66h-2.28zM414.38 511.38h2.28v2.23h-2.28zM416.02 490.66h2.28v4.48h-2.28zM417.66 519.90h2.28v1.66h-2.28zM419.30 499.75h2.28v1.07h-2.28zM420.94 514.22h2.28v1.66h-2.28zM422.58 518.19h2.28v1.10h-2.28zM424.22 523.03h2.28v1.07h-2.28zM425.86 521.03h2.28v2.23h-2.28zM427.50 515.65h2.28v1.07h-2.28zM429.14 515.35h2.28v1.66h-2.28zM430.78 507.97h2.28v2.23h-2.28zM432.42 520.47h2.28v1.10h-2.28zM434.06 516.49h2.28v1.66h-2.28zM435.70 518.19h2.28v1.66h-2.28zM437.34 516.22h2.28v1.07h-2.28zM438.98 504.29h2.28v1.07h-2.28zM440.62 516.49h2.28v2.23h-2.28zM442.26 507.13h2.28v1.64h-2.28zM443.90 517.92h2.28v1.07h-2.28zM445.54 522.17h2.28v1.66h-2.28zM447.18 522.74h2.28v1.10h-2.28zM448.82 522.17h2.28v1.66h-2.28zM450.46 499.18h2.28v1.07h-2.28zM452.10 517.06h2.28v2.23h-2.28zM453.74 507.97h2.28v2.23h-2.28zM455.38 517.92h2.28v1.07h-2.28zM457.02 530.42h2.28v1.64h-2.28zM458.66 520.47h2.28v1.10h-2.28zM461.94 514.22h2.28v2.23h-2.28zM463.58 528.42h2.28v1.66h-2.28zM465.22 528.42h2.28v1.10h-2.28zM466.86 531.26h2.28v1.66h-2.28zM468.50 534.67h2.28v2.23h-2.28zM471.78 535.23h2.28v2.23h-2.28zM473.42 525.01h2.28v2.23h-2.28zM475.06 528.42h2.28v2.23h-2.28zM476.70 523.87h2.28v2.23h-2.28zM478.34 534.10h2.28v1.66h-2.28zM481.62 533.53h2.28v2.23h-2.28zM483.26 529.55h2.28v1.66h-2.28zM486.54 530.12h2.28v2.23h-2.28zM489.82 532.96h2.28v2.23h-2.28zM491.46 536.37h2.28v2.23h-2.28zM494.74 535.80h2.28v2.23h-2.28zM496.38 534.67h2.28v2.23h-2.28zM498.02 529.28h2.28v1.07h-2.28zM501.30 525.01h2.28v1.66h-2.28zM502.94 532.96h2.28v2.23h-2.28zM504.58 528.99h2.28v2.23h-2.28zM506.22 534.10h2.28v1.10h-2.28zM507.86 528.71h2.28v1.64h-2.28zM509.50 525.01h2.28v2.23h-2.28zM511.14 517.63h2.28v1.10h-2.28zM512.78 522.17h2.28v1.66h-2.28zM514.42 528.42h2.28v2.23h-2.28zM516.06 531.83h2.28v1.66h-2.28zM517.70 521.60h2.28v1.66h-2.28zM519.34 521.03h2.28v1.66h-2.28zM520.98 527.01h2.28v1.07h-2.28zM522.62 500.31h2.28v4.48h-2.28zM525.90 527.85h2.28v1.66h-2.28zM527.54 525.87h2.28v1.07h-2.28zM529.18 520.47h2.28v1.10h-2.28zM530.82 514.79h2.28v1.66h-2.28zM532.46 521.90h2.28v2.78h-2.28zM534.10 516.79h2.28v1.07h-2.28zM535.74 528.99h2.28v1.66h-2.28zM537.38 531.26h2.28v1.10h-2.28zM539.02 523.87h2.28v2.23h-2.28zM540.66 521.90h2.28v2.78h-2.28zM542.30 516.79h2.28v1.64h-2.28zM543.94 524.74h2.28v1.07h-2.28zM545.58 520.76h2.28v3.91h-2.28zM547.22 528.99h2.28v1.10h-2.28zM548.86 530.42h2.28v1.07h-2.28zM550.50 523.60h2.28v1.07h-2.28zM552.14 526.15h2.28v1.66h-2.28zM553.78 525.58h2.28v1.66h-2.28zM555.42 523.31h2.28v1.10h-2.28zM557.06 507.70h2.28v2.78h-2.28zM558.70 526.15h2.28v2.23h-2.28zM560.34 530.69h2.28v1.66h-2.28zM561.98 526.71h2.28v2.23h-2.28zM563.62 523.87h2.28v1.10h-2.28zM565.26 517.06h2.28v1.66h-2.28zM566.90 508.83h2.28v1.07h-2.28zM568.54 490.09h2.28v2.78h-2.28zM570.18 519.63h2.28v2.21h-2.28zM571.82 523.60h2.28v1.07h-2.28zM573.46 511.67h2.28v2.78h-2.28zM575.10 477.59h2.28v4.48h-2.28zM576.74 504.86h2.28v3.34h-2.28zM578.38 496.91h2.28v1.64h-2.28zM580.02 499.75h2.28v2.78h-2.28zM581.66 492.93h2.28v2.78h-2.28zM583.30 510.54h2.28v1.07h-2.28zM584.94 496.34h2.28v2.21h-2.28zM586.58 475.89h2.28v6.75h-2.28zM588.22 489.52h2.28v1.64h-2.28zM589.86 493.50h2.28v4.48h-2.28zM591.50 452.60h2.28v5.62h-2.28zM593.14 475.32h2.28v4.48h-2.28zM594.78 505.43h2.28v4.48h-2.28zM596.42 509.97h2.28v2.21h-2.28zM598.06 497.47h2.28v5.62h-2.28zM599.70 476.46h2.28v2.21h-2.28zM601.34 487.82h2.28v2.78h-2.28zM602.98 473.62h2.28v2.21h-2.28zM604.62 486.11h2.28v2.78h-2.28zM606.26 502.02h2.28v2.78h-2.28zM607.90 492.93h2.28v2.78h-2.28zM609.54 457.71h2.28v6.18h-2.28zM611.18 459.99h2.28v4.48h-2.28zM612.82 470.21h2.28v9.59h-2.28zM614.46 455.44h2.28v7.89h-2.28zM616.10 449.19h2.28v7.32h-2.28zM617.74 477.59h2.28v5.62h-2.28zM619.38 485.55h2.28v4.48h-2.28zM621.02 449.19h2.28v6.75h-2.28zM622.66 454.31h2.28v10.16h-2.28zM624.30 448.63h2.28v5.05h-2.28zM625.94 448.06h2.28v11.86h-2.28zM627.58 457.71h2.28v6.75h-2.28zM629.22 500.88h2.28v2.21h-2.28zM630.86 461.12h2.28v5.62h-2.28zM632.50 460.55h2.28v6.75h-2.28zM634.14 429.31h2.28v11.30h-2.28zM635.78 421.36h2.28v7.32h-2.28zM637.42 424.20h2.28v6.75h-2.28zM639.06 449.19h2.28v9.59h-2.28zM640.70 462.83h2.28v6.75h-2.28zM642.34 459.42h2.28v6.75h-2.28zM643.98 412.84h2.28v6.18h-2.28zM645.62 395.80h2.28v11.30h-2.28zM647.26 391.83h2.28v14.70h-2.28zM648.90 411.71h2.28v10.73h-2.28zM650.54 414.55h2.28v11.30h-2.28zM652.18 480.43h2.28v7.32h-2.28zM653.82 404.32h2.28v11.30h-2.28zM655.46 383.31h2.28v10.16h-2.28zM657.10 381.60h2.28v13.57h-2.28zM658.74 423.63h2.28v8.46h-2.28zM660.38 431.02h2.28v11.30h-2.28zM662.02 436.13h2.28v7.89h-2.28zM663.66 408.87h2.28v10.16h-2.28zM665.30 342.41h2.28v18.11h-2.28zM666.94 283.34h2.28v18.11h-2.28zM668.58 235.06h2.28v30.61h-2.28zM670.22 252.67h2.28v32.88h-2.28zM671.86 221.99h2.28v18.68h-2.28zM673.50 281.07h2.28v19.82h-2.28zM675.14 378.76h2.28v13.00h-2.28zM676.78 420.79h2.28v10.73h-2.28zM678.42 342.41h2.28v15.27h-2.28zM680.06 289.02h2.28v22.09h-2.28zM681.70 274.82h2.28v24.36h-2.28zM683.34 262.89h2.28v26.63h-2.28zM684.98 310.03h2.28v20.95h-2.28zM686.62 438.97h2.28v5.62h-2.28zM688.26 327.07h2.28v14.14h-2.28zM689.90 346.39h2.28v14.14h-2.28zM691.54 347.52h2.28v19.82h-2.28zM693.18 374.22h2.28v15.27h-2.28zM694.82 378.76h2.28v17.54h-2.28zM696.46 377.63h2.28v15.27h-2.28zM698.10 471.91h2.28v7.32h-2.28zM699.74 416.82h2.28v11.86h-2.28zM701.38 408.87h2.28v15.27h-2.28zM703.02 418.52h2.28v10.73h-2.28zM704.66 413.98h2.28v15.27h-2.28zM706.30 410.00h2.28v14.14h-2.28zM707.94 442.38h2.28v11.30h-2.28zM709.58 487.82h2.28v3.34h-2.28zM711.22 439.54h2.28v7.32h-2.28zM712.86 451.47h2.28v15.27h-2.28zM714.50 436.70h2.28v9.02h-2.28zM716.14 436.70h2.28v7.32h-2.28zM717.78 437.27h2.28v13.00h-2.28zM719.42 465.10h2.28v3.34h-2.28zM721.06 496.91h2.28v2.21h-2.28zM722.70 468.51h2.28v7.32h-2.28zM724.34 449.19h2.28v11.30h-2.28zM725.98 462.83h2.28v6.75h-2.28zM727.62 502.59h2.28v4.48h-2.28zM729.26 484.41h2.28v4.48h-2.28zM730.90 478.16h2.28v4.48h-2.28zM732.54 506.56h2.28v2.21h-2.28zM734.18 486.68h2.28v1.64h-2.28zM735.82 458.85h2.28v6.75h-2.28zM737.46 463.96h2.28v9.02h-2.28zM739.10 492.93h2.28v4.48h-2.28zM740.74 500.31h2.28v3.34h-2.28zM742.38 503.72h2.28v5.62h-2.28zM744.02 511.67h2.28v1.64h-2.28zM745.66 493.50h2.28v2.78h-2.28zM747.30 498.04h2.28v3.34h-2.28zM748.94 496.91h2.28v5.05h-2.28zM750.58 482.41h2.28v1.10h-2.28zM752.22 489.52h2.28v3.91h-2.28zM753.86 510.54h2.28v2.21h-2.28zM755.50 511.67h2.28v5.05h-2.28zM757.14 502.29h2.28v1.10h-2.28zM758.78 487.82h2.28v3.91h-2.28zM760.42 495.77h2.28v5.62h-2.28zM762.06 491.79h2.28v6.75h-2.28z"/><path fill="#96268F" d="M176.58 541.48h2.28v2.23h-2.28zM189.70 541.48h2.28v2.23h-2.28zM191.34 539.78h2.28v2.23h-2.28zM199.54 540.91h2.28v2.23h-2.28zM202.82 540.35h2.28v2.23h-2.28zM206.10 539.21h2.28v2.23h-2.28zM207.74 534.10h2.28v2.23h-2.28zM209.38 537.51h2.28v2.23h-2.28zM212.66 533.53h2.28v2.23h-2.28zM214.30 531.83h2.28v1.66h-2.28zM215.94 528.42h2.28v2.23h-2.28zM220.86 521.33h2.28v1.64h-2.28zM222.50 517.35h2.28v2.21h-2.28zM224.14 525.58h2.28v2.23h-2.28zM225.78 527.85h2.28v1.66h-2.28zM227.42 522.17h2.28v2.23h-2.28zM229.06 527.01h2.28v2.21h-2.28zM230.70 530.69h2.28v1.66h-2.28zM232.34 511.67h2.28v2.78h-2.28zM233.98 523.31h2.28v1.66h-2.28zM235.62 525.58h2.28v1.10h-2.28zM237.26 521.60h2.28v1.10h-2.28zM238.90 532.39h2.28v1.66h-2.28zM240.54 534.67h2.28v2.23h-2.28zM242.18 531.83h2.28v1.10h-2.28zM243.82 522.74h2.28v2.23h-2.28zM245.46 532.12h2.28v1.07h-2.28zM247.10 528.71h2.28v1.64h-2.28zM248.74 535.80h2.28v2.23h-2.28zM250.38 536.37h2.28v1.66h-2.28zM255.30 535.80h2.28v2.23h-2.28zM260.22 530.12h2.28v1.66h-2.28zM265.14 534.67h2.28v2.23h-2.28zM266.78 538.64h2.28v2.23h-2.28zM268.42 536.94h2.28v2.23h-2.28zM273.34 540.91h2.28v2.23h-2.28zM304.50 542.05h2.28v2.23h-2.28zM314.34 542.05h2.28v1.66h-2.28zM340.58 539.78h2.28v2.23h-2.28zM345.50 537.51h2.28v2.23h-2.28zM347.14 536.37h2.28v1.66h-2.28zM350.42 536.37h2.28v1.66h-2.28zM358.62 530.12h2.28v2.23h-2.28zM360.26 530.12h2.28v2.23h-2.28zM363.54 527.85h2.28v1.66h-2.28zM365.18 535.23h2.28v2.23h-2.28zM366.82 531.26h2.28v1.66h-2.28zM370.10 514.79h2.28v2.23h-2.28zM373.38 517.63h2.28v1.66h-2.28zM375.02 529.55h2.28v2.23h-2.28zM379.94 521.33h2.28v1.07h-2.28zM381.58 511.38h2.28v2.23h-2.28zM383.22 518.76h2.28v2.23h-2.28zM384.86 514.79h2.28v2.23h-2.28zM386.50 522.17h2.28v1.66h-2.28zM388.14 524.44h2.28v2.23h-2.28zM389.78 518.76h2.28v2.23h-2.28zM391.42 514.22h2.28v2.23h-2.28zM393.06 506.83h2.28v1.10h-2.28zM396.34 516.49h2.28v2.23h-2.28zM404.54 517.06h2.28v2.23h-2.28zM407.82 506.27h2.28v1.10h-2.28zM409.46 499.45h2.28v1.10h-2.28zM411.10 516.49h2.28v2.23h-2.28zM412.74 519.90h2.28v1.10h-2.28zM416.02 488.66h2.28v2.23h-2.28zM417.66 518.76h2.28v2.23h-2.28zM419.30 497.75h2.28v1.66h-2.28zM420.94 513.08h2.28v1.66h-2.28zM425.86 520.47h2.28v1.66h-2.28zM427.50 513.65h2.28v2.23h-2.28zM429.14 514.22h2.28v2.23h-2.28zM432.42 518.76h2.28v1.66h-2.28zM437.34 514.22h2.28v1.10h-2.28zM438.98 502.29h2.28v2.23h-2.28zM440.62 515.92h2.28v2.23h-2.28zM443.90 515.92h2.28v2.23h-2.28zM447.18 521.03h2.28v1.66h-2.28zM448.82 521.03h2.28v1.66h-2.28zM450.46 497.18h2.28v1.66h-2.28zM453.74 507.40h2.28v2.23h-2.28zM455.38 515.92h2.28v1.66h-2.28zM458.66 518.76h2.28v2.23h-2.28zM463.58 527.28h2.28v1.10h-2.28zM466.86 530.12h2.28v2.23h-2.28zM470.14 536.37h2.28v2.23h-2.28zM475.06 527.85h2.28v1.66h-2.28zM476.70 523.31h2.28v2.23h-2.28zM483.26 528.42h2.28v1.66h-2.28zM484.90 533.53h2.28v1.66h-2.28zM488.18 534.10h2.28v2.23h-2.28zM489.82 532.39h2.28v1.66h-2.28zM496.38 534.10h2.28v2.23h-2.28zM498.02 527.28h2.28v2.23h-2.28zM499.66 527.85h2.28v2.23h-2.28zM501.30 523.87h2.28v1.10h-2.28zM502.94 532.39h2.28v2.23h-2.28zM504.58 528.42h2.28v1.10h-2.28zM506.22 532.39h2.28v2.23h-2.28zM507.86 526.71h2.28v2.23h-2.28zM511.14 515.92h2.28v1.66h-2.28zM512.78 521.03h2.28v1.66h-2.28zM514.42 527.85h2.28v2.23h-2.28zM516.06 530.69h2.28v2.23h-2.28zM517.70 520.47h2.28v1.66h-2.28zM519.34 519.90h2.28v1.66h-2.28zM520.98 525.01h2.28v2.23h-2.28zM522.62 496.34h2.28v2.78h-2.28zM524.26 519.63h2.28v1.07h-2.28zM529.18 518.49h2.28v1.07h-2.28zM530.82 513.65h2.28v1.66h-2.28zM532.46 519.63h2.28v1.07h-2.28zM534.10 513.95h2.28v1.64h-2.28zM535.74 527.85h2.28v2.23h-2.28zM537.38 529.55h2.28v1.66h-2.28zM540.66 519.90h2.28v2.23h-2.28zM542.30 514.79h2.28v2.23h-2.28zM543.94 522.74h2.28v1.10h-2.28zM545.58 518.76h2.28v2.23h-2.28zM548.86 528.42h2.28v2.23h-2.28zM550.50 521.60h2.28v1.10h-2.28zM552.14 525.01h2.28v1.66h-2.28zM553.78 524.44h2.28v2.23h-2.28zM557.06 505.70h2.28v1.66h-2.28zM558.70 525.31h2.28v1.07h-2.28zM560.34 529.55h2.28v1.66h-2.28zM561.98 526.15h2.28v1.66h-2.28zM563.62 522.17h2.28v1.66h-2.28zM565.26 515.92h2.28v1.10h-2.28zM568.54 486.11h2.28v2.78h-2.28zM570.18 517.63h2.28v1.10h-2.28zM571.82 521.60h2.28v2.23h-2.28zM573.46 509.67h2.28v1.10h-2.28zM575.10 475.59h2.28v1.66h-2.28zM576.74 502.59h2.28v1.07h-2.28zM578.38 492.36h2.28v3.34h-2.28zM580.02 495.20h2.28v3.34h-2.28zM581.66 489.52h2.28v2.21h-2.28zM583.30 508.54h2.28v1.10h-2.28zM584.94 494.07h2.28v1.07h-2.28zM586.58 471.35h2.28v3.34h-2.28zM588.22 485.55h2.28v2.78h-2.28zM589.86 489.52h2.28v2.78h-2.28zM591.50 448.63h2.28v2.78h-2.28zM593.14 470.78h2.28v3.34h-2.28zM594.78 500.31h2.28v3.91h-2.28zM596.42 507.97h2.28v1.66h-2.28zM598.06 495.47h2.28v1.10h-2.28zM599.70 473.62h2.28v1.64h-2.28zM601.34 481.57h2.28v5.05h-2.28zM602.98 466.80h2.28v5.62h-2.28zM604.62 481.57h2.28v3.34h-2.28zM606.26 498.61h2.28v2.21h-2.28zM607.90 490.09h2.28v1.64h-2.28zM609.54 450.90h2.28v5.62h-2.28zM611.18 455.44h2.28v3.34h-2.28zM612.82 465.10h2.28v3.91h-2.28zM614.46 448.06h2.28v6.18h-2.28zM616.10 441.81h2.28v6.18h-2.28zM617.74 475.32h2.28v1.07h-2.28zM619.38 482.71h2.28v1.64h-2.28zM621.02 442.38h2.28v5.62h-2.28zM622.66 448.63h2.28v4.48h-2.28zM624.30 438.40h2.28v9.02h-2.28zM625.94 440.67h2.28v6.18h-2.28zM627.58 449.76h2.28v6.75h-2.28zM629.22 496.91h2.28v2.78h-2.28zM630.86 452.03h2.28v7.89h-2.28zM632.50 453.74h2.28v5.62h-2.28zM634.14 420.23h2.28v7.89h-2.28zM635.78 416.82h2.28v3.34h-2.28zM637.42 416.82h2.28v6.18h-2.28zM639.06 440.67h2.28v7.32h-2.28zM640.70 459.42h2.28v2.21h-2.28zM642.34 452.60h2.28v5.62h-2.28zM643.98 405.46h2.28v6.18h-2.28zM645.62 386.71h2.28v7.89h-2.28zM647.26 381.60h2.28v9.02h-2.28zM648.90 403.75h2.28v6.75h-2.28zM650.54 404.89h2.28v8.46h-2.28zM652.18 473.05h2.28v6.18h-2.28zM653.82 398.64h2.28v4.48h-2.28zM655.46 373.65h2.28v8.46h-2.28zM657.10 367.40h2.28v13.00h-2.28zM658.74 417.39h2.28v5.05h-2.28zM660.38 425.34h2.28v4.48h-2.28zM662.02 426.47h2.28v8.46h-2.28zM663.66 400.35h2.28v7.32h-2.28zM665.30 324.23h2.28v16.98h-2.28zM666.94 266.87h2.28v15.27h-2.28zM668.58 218.02h2.28v15.84h-2.28zM670.22 234.49h2.28v16.98h-2.28zM671.86 201.55h2.28v19.25h-2.28zM673.50 265.16h2.28v14.70h-2.28zM675.14 369.11h2.28v8.46h-2.28zM676.78 411.71h2.28v7.89h-2.28zM678.42 325.37h2.28v15.84h-2.28zM680.06 275.95h2.28v11.86h-2.28zM681.70 254.37h2.28v19.25h-2.28zM683.34 237.33h2.28v24.36h-2.28zM684.98 295.27h2.28v13.57h-2.28zM686.62 429.31h2.28v8.46h-2.28zM688.26 311.17h2.28v14.70h-2.28zM689.90 329.35h2.28v15.84h-2.28zM691.54 329.91h2.28v16.41h-2.28zM693.18 354.91h2.28v18.11h-2.28zM694.82 369.67h2.28v7.89h-2.28zM696.46 362.29h2.28v14.14h-2.28zM698.10 465.10h2.28v5.62h-2.28zM699.74 403.75h2.28v11.86h-2.28zM701.38 398.64h2.28v9.02h-2.28zM703.02 408.87h2.28v8.46h-2.28zM704.66 396.37h2.28v16.41h-2.28zM706.30 395.80h2.28v13.00h-2.28zM707.94 431.02h2.28v10.16h-2.28zM709.58 483.84h2.28v2.78h-2.28zM711.22 427.61h2.28v10.73h-2.28zM712.86 438.40h2.28v11.86h-2.28zM714.50 424.77h2.28v10.73h-2.28zM716.14 426.47h2.28v9.02h-2.28zM717.78 420.23h2.28v15.84h-2.28zM719.42 456.58h2.28v7.32h-2.28zM721.06 488.39h2.28v7.32h-2.28zM722.70 457.15h2.28v10.16h-2.28zM724.34 437.83h2.28v10.16h-2.28zM725.98 451.47h2.28v10.16h-2.28zM727.62 496.91h2.28v4.48h-2.28zM729.26 475.32h2.28v7.89h-2.28zM730.90 467.37h2.28v9.59h-2.28zM732.54 502.59h2.28v2.78h-2.28zM734.18 479.30h2.28v6.18h-2.28zM735.82 450.90h2.28v6.75h-2.28zM737.46 455.44h2.28v7.32h-2.28zM739.10 484.98h2.28v6.75h-2.28zM740.74 494.07h2.28v5.05h-2.28zM742.38 498.61h2.28v3.91h-2.28zM744.02 507.70h2.28v2.78h-2.28zM745.66 485.55h2.28v6.75h-2.28zM747.30 490.66h2.28v6.18h-2.28zM748.94 491.23h2.28v4.48h-2.28zM750.58 473.05h2.28v8.46h-2.28zM752.22 482.71h2.28v5.62h-2.28zM753.86 504.29h2.28v5.05h-2.28zM755.50 509.67h2.28v1.66h-2.28zM757.14 495.77h2.28v5.62h-2.28zM758.78 482.14h2.28v4.48h-2.28zM760.42 488.39h2.28v6.18h-2.28zM762.06 485.55h2.28v5.05h-2.28z"/><path fill="#7C1E4E" d="M179.86 542.05h2.28v2.23h-2.28zM189.70 540.91h2.28v2.23h-2.28zM199.54 540.35h2.28v2.23h-2.28zM202.82 539.78h2.28v2.23h-2.28zM217.58 535.23h2.28v2.23h-2.28zM220.86 519.33h2.28v1.10h-2.28zM224.14 525.01h2.28v1.66h-2.28zM227.42 521.60h2.28v1.66h-2.28zM232.34 509.67h2.28v2.23h-2.28zM240.54 534.10h2.28v2.23h-2.28zM242.18 530.12h2.28v2.23h-2.28zM243.82 522.17h2.28v1.10h-2.28zM245.46 530.12h2.28v2.23h-2.28zM247.10 526.71h2.28v1.66h-2.28zM248.74 535.23h2.28v2.23h-2.28zM260.22 528.99h2.28v2.23h-2.28zM268.42 536.37h2.28v2.23h-2.28zM302.86 541.48h2.28v2.23h-2.28zM324.18 542.05h2.28v2.23h-2.28zM366.82 530.12h2.28v2.23h-2.28zM375.02 528.99h2.28v2.23h-2.28zM376.66 525.58h2.28v2.23h-2.28zM381.58 510.81h2.28v2.23h-2.28zM391.42 513.65h2.28v2.23h-2.28zM397.98 526.15h2.28v2.23h-2.28zM402.90 513.08h2.28v2.23h-2.28zM404.54 516.49h2.28v1.66h-2.28zM406.18 506.83h2.28v1.66h-2.28zM409.46 497.75h2.28v1.66h-2.28zM411.10 515.92h2.28v2.23h-2.28zM414.38 510.81h2.28v2.23h-2.28zM416.02 488.09h2.28v1.66h-2.28zM432.42 517.63h2.28v2.23h-2.28zM434.06 515.35h2.28v2.23h-2.28zM435.70 517.06h2.28v2.23h-2.28zM448.82 519.90h2.28v1.10h-2.28zM452.10 516.49h2.28v2.23h-2.28zM458.66 518.19h2.28v2.23h-2.28zM460.30 524.44h2.28v2.23h-2.28zM463.58 525.58h2.28v2.23h-2.28zM478.34 532.96h2.28v2.23h-2.28zM486.54 529.55h2.28v2.23h-2.28zM493.10 534.10h2.28v2.23h-2.28zM501.30 522.17h2.28v2.23h-2.28zM502.94 531.83h2.28v2.23h-2.28zM506.22 531.83h2.28v2.23h-2.28zM507.86 526.15h2.28v2.23h-2.28zM509.50 524.44h2.28v2.23h-2.28zM511.14 514.79h2.28v1.10h-2.28zM517.70 519.33h2.28v1.66h-2.28zM520.98 524.44h2.28v2.23h-2.28zM522.62 494.34h2.28v2.23h-2.28zM529.18 516.49h2.28v1.66h-2.28zM530.82 512.51h2.28v1.66h-2.28zM532.46 517.63h2.28v2.23h-2.28zM534.10 511.95h2.28v1.10h-2.28zM540.66 519.33h2.28v2.23h-2.28zM543.94 521.03h2.28v2.23h-2.28zM547.22 527.28h2.28v2.23h-2.28zM555.42 521.60h2.28v2.23h-2.28zM558.70 523.31h2.28v2.23h-2.28zM561.98 525.01h2.28v1.66h-2.28zM565.26 514.22h2.28v2.23h-2.28zM568.54 483.84h2.28v1.07h-2.28zM570.18 515.92h2.28v2.23h-2.28zM573.46 507.97h2.28v2.23h-2.28zM575.10 474.46h2.28v1.10h-2.28zM576.74 500.59h2.28v2.23h-2.28zM578.38 490.36h2.28v1.66h-2.28zM580.02 493.20h2.28v1.10h-2.28zM581.66 487.52h2.28v2.23h-2.28zM584.94 492.07h2.28v1.10h-2.28zM586.58 469.35h2.28v1.66h-2.28zM588.22 483.55h2.28v2.23h-2.28zM589.86 487.52h2.28v1.66h-2.28zM591.50 446.35h2.28v1.07h-2.28zM593.14 468.78h2.28v2.23h-2.28zM598.06 493.77h2.28v1.10h-2.28zM599.70 471.62h2.28v1.66h-2.28zM601.34 479.57h2.28v1.66h-2.28zM602.98 464.80h2.28v1.10h-2.28zM604.62 479.57h2.28v1.10h-2.28zM606.26 495.20h2.28v2.21h-2.28zM607.90 488.09h2.28v2.23h-2.28zM609.54 448.90h2.28v2.23h-2.28zM611.18 453.44h2.28v1.10h-2.28zM612.82 463.10h2.28v1.10h-2.28zM614.46 445.79h2.28v1.07h-2.28zM616.10 437.83h2.28v2.78h-2.28zM617.74 473.32h2.28v2.23h-2.28zM619.38 480.43h2.28v1.07h-2.28zM622.66 445.79h2.28v1.64h-2.28zM624.30 436.40h2.28v1.10h-2.28zM625.94 438.40h2.28v1.07h-2.28zM627.58 446.92h2.28v1.64h-2.28zM629.22 494.91h2.28v2.23h-2.28zM630.86 450.03h2.28v1.10h-2.28zM632.50 451.47h2.28v1.07h-2.28zM634.14 418.23h2.28v1.10h-2.28zM635.78 414.82h2.28v1.10h-2.28zM637.42 414.82h2.28v1.10h-2.28zM639.06 438.40h2.28v1.07h-2.28zM640.70 457.42h2.28v1.10h-2.28zM642.34 449.76h2.28v1.64h-2.28zM643.98 400.91h2.28v3.34h-2.28zM645.62 383.31h2.28v2.21h-2.28zM647.26 377.06h2.28v3.34h-2.28zM648.90 400.91h2.28v1.64h-2.28zM650.54 402.89h2.28v1.66h-2.28zM652.18 471.05h2.28v1.66h-2.28zM653.82 396.64h2.28v2.23h-2.28zM655.46 370.24h2.28v2.21h-2.28zM657.10 364.56h2.28v1.64h-2.28zM658.74 415.11h2.28v1.07h-2.28zM660.38 423.34h2.28v1.10h-2.28zM662.02 424.47h2.28v1.10h-2.28zM663.66 398.35h2.28v1.66h-2.28zM665.30 322.23h2.28v1.10h-2.28zM666.94 262.32h2.28v3.34h-2.28zM668.58 211.77h2.28v5.05h-2.28zM670.22 228.81h2.28v4.48h-2.28zM671.86 198.71h2.28v1.64h-2.28zM673.50 261.19h2.28v2.78h-2.28zM675.14 366.83h2.28v1.07h-2.28zM678.42 320.26h2.28v3.91h-2.28zM680.06 271.98h2.28v2.78h-2.28zM681.70 248.69h2.28v4.48h-2.28zM683.34 233.92h2.28v2.21h-2.28zM684.98 289.02h2.28v5.05h-2.28zM686.62 426.47h2.28v1.64h-2.28zM688.26 306.63h2.28v3.34h-2.28zM689.90 326.51h2.28v1.64h-2.28zM691.54 324.23h2.28v4.48h-2.28zM693.18 348.66h2.28v5.05h-2.28zM694.82 367.40h2.28v1.07h-2.28zM696.46 360.29h2.28v2.23h-2.28zM698.10 463.10h2.28v1.66h-2.28zM699.74 399.78h2.28v2.78h-2.28zM701.38 395.23h2.28v2.21h-2.28zM703.02 406.59h2.28v1.07h-2.28zM704.66 392.96h2.28v2.21h-2.28zM706.30 389.55h2.28v5.05h-2.28zM707.94 427.61h2.28v2.21h-2.28zM711.22 423.07h2.28v3.34h-2.28zM712.86 434.99h2.28v2.21h-2.28zM714.50 421.93h2.28v1.64h-2.28zM716.14 424.20h2.28v1.07h-2.28zM717.78 416.25h2.28v2.78h-2.28zM719.42 453.74h2.28v1.64h-2.28zM721.06 486.11h2.28v1.07h-2.28zM722.70 454.87h2.28v1.07h-2.28zM724.34 434.43h2.28v2.21h-2.28zM725.98 446.35h2.28v3.91h-2.28zM727.62 490.66h2.28v5.05h-2.28zM729.26 472.48h2.28v1.64h-2.28zM730.90 465.37h2.28v1.10h-2.28zM732.54 500.31h2.28v1.07h-2.28zM734.18 477.03h2.28v1.07h-2.28zM735.82 445.79h2.28v3.91h-2.28zM737.46 453.17h2.28v1.07h-2.28zM739.10 482.71h2.28v1.07h-2.28zM740.74 491.79h2.28v1.07h-2.28zM742.38 496.61h2.28v2.23h-2.28zM744.02 505.70h2.28v1.66h-2.28zM745.66 483.27h2.28v1.07h-2.28zM747.30 488.66h2.28v1.10h-2.28zM748.94 488.95h2.28v1.07h-2.28zM750.58 468.51h2.28v3.34h-2.28zM752.22 480.43h2.28v1.07h-2.28zM753.86 502.29h2.28v1.66h-2.28zM755.50 508.54h2.28v1.10h-2.28zM757.14 491.23h2.28v3.34h-2.28zM758.78 476.46h2.28v4.48h-2.28zM760.42 486.11h2.28v1.07h-2.28zM762.06 483.27h2.28v1.07h-2.28z"/><path fill="#FDBB2D" d="M461.94 513.65h2.28v2.23h-2.28zM568.54 481.84h2.28v2.23h-2.28zM663.66 397.21h2.28v2.23h-2.28zM673.50 258.35h2.28v1.64h-2.28zM681.70 246.69h2.28v2.23h-2.28zM696.46 359.72h2.28v2.23h-2.28zM709.58 481.84h2.28v2.23h-2.28zM714.50 419.09h2.28v1.64h-2.28zM717.78 414.25h2.28v2.23h-2.28zM735.82 443.79h2.28v2.23h-2.28zM748.94 486.95h2.28v2.23h-2.28zM762.06 481.27h2.28v2.23h-2.28z"/><path fill="#D6FF30" d="M237.26 519.90h2.28v2.23h-2.28zM373.38 516.49h2.28v2.23h-2.28zM379.94 519.33h2.28v2.23h-2.28zM450.46 496.04h2.28v2.23h-2.28zM458.66 517.63h2.28v2.23h-2.28zM478.34 532.39h2.28v2.23h-2.28zM486.54 528.99h2.28v2.23h-2.28zM496.38 533.53h2.28v2.23h-2.28zM501.30 521.60h2.28v2.23h-2.28zM512.78 519.90h2.28v2.23h-2.28zM516.06 530.12h2.28v2.23h-2.28zM524.26 517.63h2.28v2.23h-2.28zM529.18 515.35h2.28v2.23h-2.28zM530.82 511.38h2.28v2.23h-2.28zM532.46 517.06h2.28v2.23h-2.28zM553.78 523.87h2.28v2.23h-2.28zM566.90 506.83h2.28v2.23h-2.28zM570.18 515.35h2.28v2.23h-2.28zM571.82 521.03h2.28v2.23h-2.28zM573.46 507.40h2.28v2.23h-2.28zM581.66 486.95h2.28v2.23h-2.28zM584.94 490.36h2.28v2.23h-2.28zM586.58 468.21h2.28v2.23h-2.28zM589.86 486.39h2.28v2.23h-2.28zM591.50 444.35h2.28v2.23h-2.28zM593.14 468.21h2.28v2.23h-2.28zM611.18 451.74h2.28v2.23h-2.28zM614.46 443.79h2.28v2.23h-2.28zM625.94 436.40h2.28v2.23h-2.28zM632.50 449.47h2.28v2.23h-2.28zM634.14 416.52h2.28v2.23h-2.28zM635.78 413.11h2.28v2.23h-2.28zM637.42 413.11h2.28v2.23h-2.28zM639.06 436.40h2.28v2.23h-2.28zM642.34 447.76h2.28v2.23h-2.28zM650.54 401.75h2.28v2.23h-2.28zM652.18 469.91h2.28v2.23h-2.28zM657.10 362.56h2.28v2.23h-2.28zM658.74 413.11h2.28v2.23h-2.28zM660.38 421.63h2.28v2.23h-2.28zM662.02 422.77h2.28v2.23h-2.28zM665.30 320.53h2.28v2.23h-2.28zM666.94 260.32h2.28v2.23h-2.28zM668.58 209.77h2.28v2.23h-2.28zM670.22 226.81h2.28v2.23h-2.28zM671.86 196.71h2.28v2.23h-2.28zM673.50 256.35h2.28v2.23h-2.28zM675.14 364.83h2.28v2.23h-2.28zM676.78 409.71h2.28v2.23h-2.28zM678.42 318.26h2.28v2.23h-2.28zM680.06 269.98h2.28v2.23h-2.28zM683.34 231.92h2.28v2.23h-2.28zM684.98 287.02h2.28v2.23h-2.28zM689.90 324.51h2.28v2.23h-2.28zM691.54 322.23h2.28v2.23h-2.28zM693.18 346.66h2.28v2.23h-2.28zM694.82 365.40h2.28v2.23h-2.28zM698.10 461.96h2.28v2.23h-2.28zM704.66 390.96h2.28v2.23h-2.28zM706.30 387.55h2.28v2.23h-2.28zM716.14 421.36h2.28v1.64h-2.28zM719.42 450.90h2.28v1.64h-2.28zM732.54 498.31h2.28v2.23h-2.28zM739.10 480.71h2.28v2.23h-2.28zM742.38 496.04h2.28v2.23h-2.28zM750.58 466.51h2.28v2.23h-2.28z"/><path fill="#3AF05F" d="M268.42 535.80h2.28v2.23h-2.28zM575.10 472.75h2.28v2.23h-2.28zM576.74 500.02h2.28v2.23h-2.28zM580.02 491.50h2.28v2.23h-2.28zM612.82 461.39h2.28v2.23h-2.28zM614.46 443.22h2.28v2.23h-2.28zM621.02 440.38h2.28v2.23h-2.28zM624.30 434.70h2.28v2.23h-2.28zM627.58 444.92h2.28v2.23h-2.28zM630.86 448.33h2.28v2.23h-2.28zM645.62 381.31h2.28v2.23h-2.28zM647.26 375.06h2.28v2.23h-2.28zM714.50 417.09h2.28v2.23h-2.28zM716.14 419.36h2.28v2.23h-2.28zM719.42 448.90h2.28v2.23h-2.28zM725.98 444.35h2.28v2.23h-2.28zM730.90 463.67h2.28v2.23h-2.28zM734.18 475.03h2.28v2.23h-2.28zM737.46 451.17h2.28v2.23h-2.28z"/><g opacity="0.999"><g aria-label="埼玉県のCOVID-19新規陽性者数"><text class="cj" x="134.33 172.28 210.23 248.18" y="51.80" font-size="36.0" fill="#fff">埼玉県の</text><text x="286.12" y="51.80" font-size="38.50" textLength="151.80" lengthAdjust="spacingAndGlyphs" fill="#fff">COVID-19</text><text class="cj" x="437.93 475.88 513.83 551.78 589.73 627.68" y="51.80" font-size="36.0" fill="#fff">新規陽性者数</text></g><rect x="71" y="70" width="21" height="21" fill="#FDBB2D"/><g aria-label="未就学児"><text class="cj" x="105.00 119.85 134.70 149.55" y="85.00" font-size="14.0" fill="#fff">未就学児</text></g><rect x="185" y="70" width="21" height="21" fill="#FFF42A"/><g aria-label="10歳未満"><text x="219.00" y="85.00" font-size="14.80" textLength="14.85" lengthAdjust="spacingAndGlyphs" fill="#fff">10</text><text class="cj" x="233.85 248.70 263.55" y="85.00" font-size="14.0" fill="#fff">歳未満</text></g><rect x="298" y="70" width="21" height="21" fill="#D6FF30"/><g aria-label="10代"><text x="332.00" y="85.00" font-size="14.80" textLength="14.85" lengthAdjust="spacingAndGlyphs" fill="#fff">10</text><text class="cj" x="346.85" y="85.00" font-size="14.0" fill="#fff">代</text></g><rect x="381" y="70" width="21" height="21" fill="#76F536"/><g aria-label="未成年"><text class="cj" x="415.00 429.85 444.70" y="85.00" font-size="14.0" fill="#fff">未成年</text></g><rect x="480" y="70" width="21" height="21" fill="#3AF05F"/><g aria-label="20代"><text x="514.00" y="85.00" font-size="14.80" textLength="14.85" lengthAdjust="spacingAndGlyphs" fill="#fff">20</text><text class="cj" x="528.85" y="85.00" font-size="14.0" fill="#fff">代</text></g><rect x="563" y="70" width="21" height="21" fill="#3DE9A8"/><g aria-label="30代"><text x="597.00" y="85.00" font-size="14.80" textLength="14.85" lengthAdjust="spacingAndGlyphs" fill="#fff">30</text><text class="cj" x="611.85" y="85.00" font-size="14.0" fill="#fff">代</text></g><rect x="646" y="70" width="21" height="21" fill="#3AC8DC"/><g aria-label="40代"><text x="680.00" y="85.00" font-size="14.80" textLength="14.85" lengthAdjust="spacingAndGlyphs" fill="#fff">40</text><text class="cj" x="694.85" y="85.00" font-size="14.0" fill="#fff">代</text></g><rect x="91" y="110" width="21" height="21" fill="#3674CD"/><g aria-label="50代"><text x="125.00" y="125.00" font-size="14.80" textLength="14.85" lengthAdjust="spacingAndGlyphs" fill="#fff">50</text><text class="cj" x="139.85" y="125.00" font-size="14.0" fill="#fff">代</text></g><rect x="174" y="110" width="21" height="21" fill="#392EB8"/><g aria-label="60代"><text x="208.00" y="125.00" font-size="14.80" textLength="14.85" lengthAdjust="spacingAndGlyphs" fill="#fff">60</text><text class="cj" x="222.85" y="125.00" font-size="14.0" fill="#fff">代</text></g><rect x="257" y="110" width="21" height="21" fill="#6B2AA6"/><g aria-label="70代"><text x="291.00" y="125.00" font-size="14.80" textLength="14.85" lengthAdjust="spacingAndGlyphs" fill="#fff">70</text><text class="cj" x="305.85" y="125.00" font-size="14.0" fill="#fff">代</text></g><rect x="340" y="110" width="21" height="21" fill="#96268F"/><g aria-label="80代"><text x="374.00" y="125.00" font-size="14.80" textLength="14.85" lengthAdjust="spacingAndGlyphs" fill="#fff">80</text><text class="cj" x="388.85" y="125.00" font-size="14.0" fill="#fff">代</text></g><rect x="423" y="110" width="21" height="21" fill="#7C1E4E"/><g aria-label="90代"><text x="457.00" y="125.00" font-size="14.80" textLength="14.85" lengthAdjust="spacingAndGlyphs" fill="#fff">90</text><text class="cj" x="471.85" y="125.00" font-size="14.0" fill="#fff">代</text></g><rect x="506" y="110" width="21" height="21" fill="#5F1A1D"/><g aria-label="90歳以上"><text x="540.00" y="125.00" font-size="14.80" textLength="14.85" lengthAdjust="spacingAndGlyphs" fill="#fff">90</text><text class="cj" x="554.85 569.70 584.55" y="125.00" font-size="14.0" fill="#fff">歳以上</text></g><rect x="619" y="110" width="21" height="21" fill="#FDBB2D"/><g aria-label="100代"><text x="653.00" y="125.00" font-size="14.80" textLength="22.27" lengthAdjust="spacingAndGlyphs" fill="#fff">100</text><text class="cj" x="675.27" y="125.00" font-size="14.0" fill="#fff">代</text></g><rect x="192" y="150" width="21" height="21" fill="#FFF42A"/><g aria-label="100歳以上"><text x="226.00" y="165.00" font-size="14.80" textLength="22.27" lengthAdjust="spacingAndGlyphs" fill="#fff">100</text><text class="cj" x="248.27 263.12 277.97" y="165.00" font-size="14.0" fill="#fff">歳以上</text></g><rect x="312" y="150" width="21" height="21" fill="#D6FF30"/><g aria-label="不明"><text class="cj" x="346.00 360.85" y="165.00" font-size="14.0" fill="#fff">不明</text></g><rect x="396" y="150" width="21" height="21" fill="#76F536"/><g aria-label="調査中"><text class="cj" x="430.00 444.85 459.70" y="165.00" font-size="14.0" fill="#fff">調査中</text></g><rect x="495" y="150" width="21" height="21" fill="#3AF05F"/><g aria-label="90代以上"><text x="529.00" y="165.00" font-size="14.80" textLength="14.85" lengthAdjust="spacingAndGlyphs" fill="#fff">90</text><text class="cj" x="543.85 558.70 573.55" y="165.00" font-size="14.0" fill="#fff">代以上</text></g><text class="ax" x="56.20" y="548.85" font-size="20.3" textLength="11.00" lengthAdjust="spacingAndGlyphs" fill="#fff">0</text><text class="ax" x="34.20" y="435.25" font-size="20.3" textLength="33.00" lengthAdjust="spacingAndGlyphs" fill="#fff">200</text><text class="ax" x="34.20" y="321.65" font-size="20.3" textLength="33.00" lengthAdjust="spacingAndGlyphs" fill="#fff">400</text><text class="ax" x="34.20" y="208.05" font-size="20.3" textLength="33.00" lengthAdjust="spacingAndGlyphs" fill="#fff">600</text><text class="ax" x="148.75" y="576" font-size="20.3" textLength="32.10" lengthAdjust="spacingAndGlyphs" fill="#fff">3/5</text><text class="ax" x="184.40" y="576" font-size="20.3" textLength="42.80" lengthAdjust="spacingAndGlyphs" fill="#fff">3/30</text><text class="ax" x="225.40" y="576" font-size="20.3" textLength="42.80" lengthAdjust="spacingAndGlyphs" fill="#fff">4/24</text><text class="ax" x="266.40" y="576" font-size="20.3" textLength="42.80" lengthAdjust="spacingAndGlyphs" fill="#fff">5/19</text><text class="ax" x="307.40" y="576" font-size="20.3" textLength="42.80" lengthAdjust="spacingAndGlyphs" fill="#fff">6/13</text><text class="ax" x="353.75" y="576" font-size="20.3" textLength="32.10" lengthAdjust="spacingAndGlyphs" fill="#fff">7/8</text><text class="ax" x="394.75" y="576" font-size="20.3" textLength="32.10" lengthAdjust="spacingAndGlyphs" fill="#fff">8/2</text><text class="ax" x="430.40" y="576" font-size="20.3" textLength="42.80" lengthAdjust="spacingAndGlyphs" fill="#fff">8/27</text><text class="ax" x="471.40" y="576" font-size="20.3" textLength="42.80" lengthAdjust="spacingAndGlyphs" fill="#fff">9/21</text><text class="ax" x="507.05" y="576" font-size="20.3" textLength="53.50" lengthAdjust="spacingAndGlyphs" fill="#fff">10/16</text><text class="ax" x="548.05" y="576" font-size="20.3" textLength="53.50" lengthAdjust="spacingAndGlyphs" fill="#fff">11/10</text><text class="ax" x="594.40" y="576" font-size="20.3" textLength="42.80" lengthAdjust="spacingAndGlyphs" fill="#fff">12/5</text><text class="ax" x="746.45" y="576" font-size="20.3" textLength="32.10" lengthAdjust="spacingAndGlyphs" fill="#fff">3/4</text></g></svg></div></body></html>
